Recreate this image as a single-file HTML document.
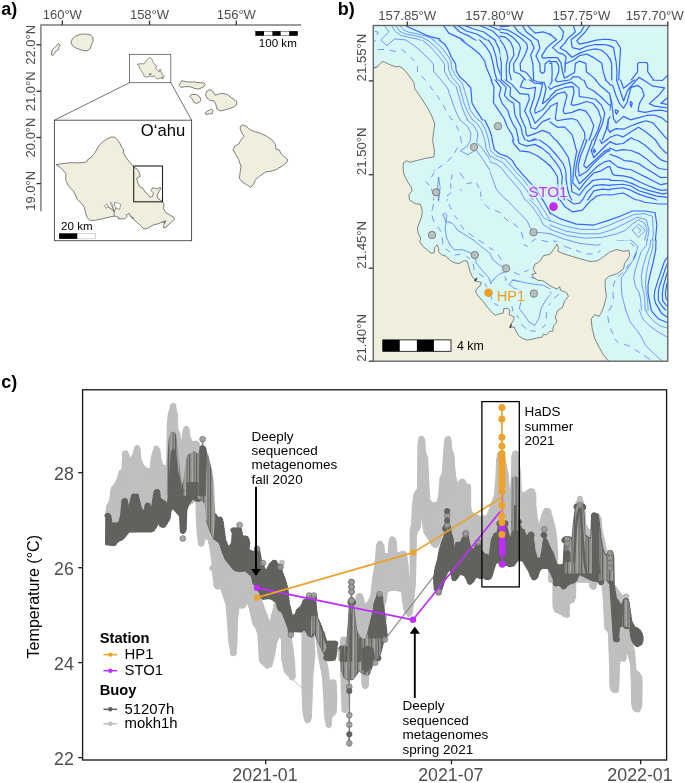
<!DOCTYPE html>
<html lang="en"><head><meta charset="utf-8"><title>Figure 1</title>
<style>
html,body{margin:0;padding:0;background:#fff;}
svg{display:block;font-family:"Liberation Sans",sans-serif;}
</style></head><body>
<svg width="685" height="783" viewBox="0 0 685 783">
<rect width="685" height="783" fill="#fff"/>
<g id="panel-a">
<text x="1.30" y="14.70" font-size="18.00" fill="#000" text-anchor="start" font-weight="bold" >a)</text>
<path d="M40.9,211.3 V25.0 H301.2" fill="none" stroke="#7c7c7c" stroke-width="1.45"/>
<line x1="62.3" x2="62.3" y1="20.6" y2="25.0" stroke="#333" stroke-width="1.3"/>
<text x="62.30" y="18.90" font-size="13.00" fill="#4D4D4D" text-anchor="middle" font-weight="normal" >160°W</text>
<line x1="149.5" x2="149.5" y1="20.6" y2="25.0" stroke="#333" stroke-width="1.3"/>
<text x="149.50" y="18.90" font-size="13.00" fill="#4D4D4D" text-anchor="middle" font-weight="normal" >158°W</text>
<line x1="236.3" x2="236.3" y1="20.6" y2="25.0" stroke="#333" stroke-width="1.3"/>
<text x="236.30" y="18.90" font-size="13.00" fill="#4D4D4D" text-anchor="middle" font-weight="normal" >156°W</text>
<line x1="36.4" x2="40.9" y1="44.8" y2="44.8" stroke="#333" stroke-width="1.3"/>
<text transform="translate(34.90,44.80) rotate(-90)" font-size="13.00" fill="#4D4D4D" text-anchor="middle" font-weight="normal">22.0°N</text>
<line x1="36.4" x2="40.9" y1="91.3" y2="91.3" stroke="#333" stroke-width="1.3"/>
<text transform="translate(34.90,91.30) rotate(-90)" font-size="13.00" fill="#4D4D4D" text-anchor="middle" font-weight="normal">21.0°N</text>
<line x1="36.4" x2="40.9" y1="137.5" y2="137.5" stroke="#333" stroke-width="1.3"/>
<text transform="translate(34.90,137.50) rotate(-90)" font-size="13.00" fill="#4D4D4D" text-anchor="middle" font-weight="normal">20.0°N</text>
<line x1="36.4" x2="40.9" y1="183.6" y2="183.6" stroke="#333" stroke-width="1.3"/>
<text transform="translate(34.90,210.80) rotate(-90)" font-size="13.00" fill="#4D4D4D" text-anchor="start" font-weight="normal">19.0°N</text>
<polygon points="51.39,53.87 52.26,49.93 54.60,47.45 56.79,45.69 58.25,43.36 60.15,45.11 58.69,47.74 58.98,49.20 56.35,50.95 54.60,53.28 53.14,55.33 51.68,55.04" fill="#F0EFDE" stroke="#4a4a4a" stroke-width="0.7" stroke-linejoin="round" />
<polygon points="70.95,42.19 72.41,38.69 75.77,36.06 80.15,34.31 85.26,34.01 90.36,34.60 92.85,37.23 93.14,41.17 91.39,44.82 90.36,48.47 87.01,50.95 82.34,50.36 78.25,48.91 74.74,47.45 72.12,45.11" fill="#F0EFDE" stroke="#4a4a4a" stroke-width="0.7" stroke-linejoin="round" />
<polygon points="179.11,85.46 180.28,83.12 181.68,80.79 186.35,81.72 192.77,82.19 193.94,81.26 195.11,82.42 203.87,82.89 205.27,84.53 203.64,86.86 198.96,88.96 194.53,88.38 189.85,86.63 185.18,86.63 181.09,87.45" fill="#F0EFDE" stroke="#4a4a4a" stroke-width="0.7" stroke-linejoin="round" />
<polygon points="189.62,96.20 191.61,94.57 196.28,94.45 199.43,96.44 201.07,99.71 199.43,102.28 196.28,103.56 193.59,102.04 192.42,99.12" fill="#F0EFDE" stroke="#4a4a4a" stroke-width="0.7" stroke-linejoin="round" />
<polygon points="205.50,94.45 206.67,91.30 209.71,89.66 212.74,91.07 215.08,95.27 221.39,93.28 227.23,94.57 231.90,97.96 236.80,101.46 236.57,104.96 233.07,107.30 226.06,109.64 220.22,110.92 216.95,109.05 215.78,104.38 213.91,100.88 209.71,100.29 206.91,97.96" fill="#F0EFDE" stroke="#4a4a4a" stroke-width="0.7" stroke-linejoin="round" />
<polygon points="205.27,112.79 207.96,110.92 211.46,109.05 212.98,110.80 212.28,113.49 208.54,114.07 205.97,114.42" fill="#F0EFDE" stroke="#4a4a4a" stroke-width="0.7" stroke-linejoin="round" />
<polygon points="240.44,126.42 242.77,124.91 246.28,126.42 250.36,129.93 255.04,131.68 260.88,133.43 266.72,136.35 271.97,139.85 275.47,144.53 276.06,149.20 279.56,150.13 280.73,153.28 284.23,156.79 287.97,159.71 286.57,162.63 281.90,166.13 276.06,169.64 270.22,171.39 265.55,171.97 259.71,176.06 255.62,179.56 253.87,183.65 250.60,187.50 246.86,184.82 242.19,181.90 239.39,178.39 240.09,172.55 241.02,166.72 238.69,159.71 235.77,154.45 233.08,149.78 234.60,146.28 238.69,143.94 241.02,139.85 243.94,136.35 241.26,131.68 240.09,128.18" fill="#F0EFDE" stroke="#4a4a4a" stroke-width="0.7" stroke-linejoin="round" />
<rect x="129.5" y="54.3" width="41.3" height="28.4" fill="none" stroke="#444" stroke-width="0.7"/>
<line x1="129.5" y1="82.7" x2="54.4" y2="120.2" stroke="#333" stroke-width="0.7"/>
<line x1="170.8" y1="82.7" x2="191.6" y2="120.2" stroke="#333" stroke-width="0.7"/>
<rect x="255.60" y="31.2" width="8.40" height="4.5" fill="#000"/>
<rect x="264.00" y="31.2" width="8.40" height="4.5" fill="#fff"/>
<rect x="272.40" y="31.2" width="8.40" height="4.5" fill="#000"/>
<rect x="280.80" y="31.2" width="8.40" height="4.5" fill="#fff"/>
<rect x="289.20" y="31.2" width="8.40" height="4.5" fill="#000"/>
<rect x="255.6" y="31.2" width="42" height="4.5" fill="none" stroke="#000" stroke-width="0.4"/>
<text x="277.80" y="46.60" font-size="11.60" fill="#000" text-anchor="middle" font-weight="normal" >100 km</text>
<rect x="54.4" y="120.2" width="137.2" height="120.5" fill="#fff" stroke="#444" stroke-width="0.9"/>
<polygon points="56.07,164.64 62.85,163.58 71.02,162.65 79.20,162.88 85.04,162.30 87.14,161.25 88.31,158.91 90.29,158.21 93.80,154.12 96.48,150.27 97.88,147.12 101.39,143.03 106.06,139.53 111.31,136.96 114.82,137.19 117.74,140.11 120.07,143.61 121.82,147.70 123.58,149.45 123.34,152.96 125.91,157.04 130.00,162.88 132.52,165.04 134.27,167.37 137.19,169.12 139.53,172.63 140.11,176.13 136.61,178.47 137.77,182.55 139.53,186.64 143.03,188.39 145.36,192.48 148.28,194.82 150.04,197.15 152.37,196.57 153.54,193.07 151.20,190.73 152.37,187.81 155.29,188.39 157.63,188.98 159.96,187.23 161.13,188.39 159.38,190.73 157.04,195.40 158.21,198.91 162.30,201.24 164.05,204.45 163.47,208.54 165.80,212.63 169.89,214.96 173.98,217.30 174.56,219.05 171.06,222.55 166.97,226.06 165.80,227.81 163.47,227.81 164.05,224.31 165.80,220.80 162.88,221.97 158.21,223.72 153.54,224.89 149.45,227.23 145.95,228.98 143.03,228.39 141.28,226.06 137.77,223.14 134.27,220.22 131.35,216.72 129.01,213.80 129.42,213.45 126.15,215.08 127.08,216.72 124.74,218.82 118.32,218.82 118.91,217.30 115.40,216.25 114.00,216.25 110.73,216.72 102.55,218.82 94.38,220.45 89.71,220.22 87.37,217.88 85.62,213.21 84.45,207.37 81.53,203.28 76.86,199.20 76.28,196.86 73.36,191.02 68.69,186.35 65.77,180.51 65.77,173.50 62.85,170.00 60.51,167.55" fill="#F0EFDE" stroke="#4a4a4a" stroke-width="0.7" stroke-linejoin="round" />
<polygon points="137.09,64.21 138.66,63.96 140.55,63.75 142.44,63.80 143.79,63.67 144.27,63.43 144.54,62.89 145.00,62.72 145.81,61.78 146.43,60.89 146.75,60.16 147.56,59.22 148.64,58.41 149.85,57.82 150.66,57.87 151.34,58.54 151.88,59.35 152.28,60.30 152.69,60.70 152.63,61.51 153.23,62.45 154.17,63.80 154.75,64.30 155.16,64.84 155.83,65.24 156.37,66.05 156.51,66.86 155.70,67.40 155.97,68.35 156.37,69.29 157.18,69.70 157.72,70.64 158.39,71.18 158.80,71.72 159.34,71.59 159.61,70.78 159.07,70.24 159.34,69.56 160.01,69.70 160.55,69.83 161.09,69.43 161.36,69.70 160.96,70.24 160.42,71.31 160.69,72.13 161.63,72.66 162.04,73.41 161.90,74.35 162.44,75.29 163.39,75.83 164.33,76.37 164.46,76.78 163.66,77.59 162.71,78.40 162.44,78.80 161.90,78.80 162.04,77.99 162.44,77.18 161.77,77.45 160.69,77.86 159.61,78.13 158.66,78.67 157.86,79.07 157.18,78.94 156.78,78.40 155.97,77.72 155.16,77.05 154.48,76.24 153.94,75.57 154.04,75.48 153.28,75.86 153.50,76.24 152.96,76.72 151.47,76.72 151.61,76.37 150.80,76.13 150.47,76.13 149.72,76.24 147.83,76.72 145.94,77.10 144.86,77.05 144.32,76.51 143.92,75.43 143.65,74.08 142.97,73.14 141.90,72.19 141.76,71.65 141.09,70.30 140.01,69.22 139.33,67.88 139.33,66.26 138.66,65.45 138.12,64.88" fill="#F0EFDE" stroke="#4a4a4a" stroke-width="0.6" stroke-linejoin="round" />
<path d="M148.9,74.6 L149.6,73.4 L150.3,74.3 L151.4,73.2 L151.0,74.6 Z" fill="#666" stroke="#555" stroke-width="0.4"/>
<polygon points="104.50,205.70 106.70,204.20 108.50,207.20 105.90,208.20" fill="#fff" stroke="#4a4a4a" stroke-width="0.5" stroke-linejoin="round" />
<polygon points="110.70,202.40 112.50,204.60 112.90,208.20 111.40,205.70" fill="#fff" stroke="#4a4a4a" stroke-width="0.5" stroke-linejoin="round" />
<polygon points="114.30,202.80 116.90,202.40 120.90,204.60 119.50,209.30 116.20,208.20 114.70,206.10" fill="#fff" stroke="#4a4a4a" stroke-width="0.5" stroke-linejoin="round" />
<polyline points="114.10,215.40 114.10,211.20 108.50,207.20" fill="none" stroke="#4a4a4a" stroke-width="0.7" stroke-linejoin="round" stroke-linecap="round" />
<polyline points="114.10,211.20 112.90,208.20" fill="none" stroke="#4a4a4a" stroke-width="0.7" stroke-linejoin="round" stroke-linecap="round" />
<polyline points="114.10,211.20 116.20,208.20" fill="none" stroke="#4a4a4a" stroke-width="0.7" stroke-linejoin="round" stroke-linecap="round" />
<polyline points="130.18,215.78 131.93,217.30 133.69,218.12" fill="none" stroke="#555" stroke-width="0.8" stroke-linejoin="round" stroke-linecap="round" />
<polyline points="162.30,221.97 164.05,223.14 165.45,221.39" fill="none" stroke="#555" stroke-width="0.8" stroke-linejoin="round" stroke-linecap="round" />
<rect x="133.7" y="166.0" width="28.8" height="35.8" fill="none" stroke="#222" stroke-width="1.1"/>
<text x="163.00" y="136.00" font-size="16.60" fill="#000" text-anchor="middle" font-weight="normal" >Oʻahu</text>
<rect x="59.1" y="233.3" width="18.3" height="5.6" fill="#000"/>
<rect x="77.4" y="233.3" width="18.1" height="5.6" fill="#fff" stroke="#999" stroke-width="0.4"/>
<text x="76.90" y="229.80" font-size="11.60" fill="#000" text-anchor="middle" font-weight="normal" >20 km</text>
</g>
<g id="panel-b">
<text x="337.70" y="14.70" font-size="18.00" fill="#000" text-anchor="start" font-weight="bold" >b)</text>
<rect x="373.0" y="25.5" width="294.8" height="335.7" fill="#D7F7F6"/>
<defs>
<clipPath id="bframe"><rect x="373.0" y="25.5" width="294.8" height="335.7"/></clipPath>
<clipPath id="bc0"><rect x="369.5" y="89.5" width="51.0" height="46.0"/><rect x="419.5" y="119.5" width="11.0" height="16.0"/></clipPath>
<clipPath id="bc1"><rect x="439.5" y="19.5" width="61.0" height="21.0"/></clipPath>
<clipPath id="bc2"><rect x="369.5" y="19.5" width="51.0" height="71.0"/><rect x="419.5" y="19.5" width="21.0" height="21.0"/></clipPath>
<clipPath id="bc3"><rect x="419.5" y="39.5" width="71.0" height="81.0"/><rect x="489.5" y="39.5" width="11.0" height="41.0"/></clipPath>
<clipPath id="bc4"><rect x="499.5" y="19.5" width="51.0" height="61.0"/></clipPath>
<clipPath id="bc5"><rect x="549.5" y="19.5" width="61.0" height="61.0"/></clipPath>
<clipPath id="bc6"><rect x="609.5" y="19.5" width="61.0" height="61.0"/></clipPath>
<clipPath id="bc7"><rect x="489.5" y="79.5" width="61.0" height="61.0"/></clipPath>
<clipPath id="bc8"><rect x="549.5" y="79.5" width="61.0" height="61.0"/></clipPath>
<clipPath id="bc9"><rect x="609.5" y="79.5" width="61.0" height="61.0"/></clipPath>
<clipPath id="bc10"><rect x="489.5" y="139.5" width="61.0" height="61.0"/></clipPath>
<clipPath id="bc11"><rect x="549.5" y="139.5" width="61.0" height="61.0"/></clipPath>
<clipPath id="bc12"><rect x="609.5" y="139.5" width="61.0" height="61.0"/></clipPath>
<clipPath id="bc13"><rect x="429.5" y="119.5" width="61.0" height="51.0"/></clipPath>
<clipPath id="bc14"><rect x="369.5" y="134.5" width="61.0" height="36.0"/><rect x="369.5" y="169.5" width="121.0" height="31.0"/></clipPath>
<clipPath id="bc15"><rect x="369.5" y="199.5" width="81.0" height="101.0"/></clipPath>
<clipPath id="bc16"><rect x="449.5" y="199.5" width="101.0" height="81.0"/></clipPath>
<clipPath id="bc17"><rect x="549.5" y="199.5" width="51.0" height="91.0"/><rect x="599.5" y="199.5" width="71.0" height="41.0"/></clipPath>
<clipPath id="bc18"><rect x="449.5" y="279.5" width="101.0" height="83.0"/></clipPath>
<clipPath id="bc19"><rect x="549.5" y="289.5" width="51.0" height="73.0"/><rect x="599.5" y="309.5" width="71.0" height="53.0"/></clipPath>
<clipPath id="bc20"><rect x="599.5" y="239.5" width="71.0" height="71.0"/></clipPath>
</defs>
<g clip-path="url(#bframe)">
<g clip-path="url(#bc0)">
<polyline points="378.76,48.91 385.33,48.47 392.99,50.66 402.85,49.56 411.61,56.13 417.08,64.89 418.18,73.65 424.74,80.22 433.50,90.07 442.26,103.21 451.02,116.35 457.59,127.30 459.78,134.96" fill="none" stroke="#3366FF" stroke-width="0.65" stroke-linejoin="round" stroke-linecap="round" stroke-dasharray="4.6 4.6"/>
<polyline points="375.47,30.95 378.32,33.58 375.47,36.42" fill="none" stroke="#3366FF" stroke-width="0.65" stroke-linejoin="round" stroke-linecap="round" />
<polyline points="373.07,41.90 375.47,39.71" fill="none" stroke="#3366FF" stroke-width="0.65" stroke-linejoin="round" stroke-linecap="round" />
<polyline points="385.77,25.47 389.27,32.04 381.39,39.71 387.08,45.18 395.18,38.61 406.13,39.71 420.36,49.56 433.50,60.51 433.94,71.46 442.26,82.41 449.93,92.26 454.31,107.59" fill="none" stroke="#3366FF" stroke-width="0.65" stroke-linejoin="round" stroke-linecap="round" />
<polyline points="391.46,25.47 397.37,34.23 408.32,36.42 421.46,41.90 433.50,51.75 443.36,62.70 444.45,72.55 451.02,83.50 456.50,94.45 459.78,107.59" fill="none" stroke="#3366FF" stroke-width="0.65" stroke-linejoin="round" stroke-linecap="round" />
<polyline points="395.18,25.47 400.66,32.04 411.61,34.23 424.74,39.71 436.79,49.56 446.64,60.51 447.74,70.36 454.31,81.31 460.22,94.45 463.07,106.50" fill="none" stroke="#3366FF" stroke-width="0.65" stroke-linejoin="round" stroke-linecap="round" />
<polyline points="398.47,25.47 403.94,30.51 414.89,32.70 427.37,37.96 439.64,47.37 449.93,58.32 451.02,69.27 457.59,80.22 463.72,92.26 466.35,105.40" fill="none" stroke="#3366FF" stroke-width="0.65" stroke-linejoin="round" stroke-linecap="round" />
<polyline points="406.13,26.13 413.80,29.85 424.74,33.14 440.07,38.61 447.74,46.28 454.31,58.32 456.50,69.27 465.26,80.22 471.17,88.98 471.82,101.02" fill="none" stroke="#3366FF" stroke-width="1.2" stroke-linejoin="round" stroke-linecap="round" />
</g>
<g clip-path="url(#bc1)">
<polyline points="443.36,25.47 448.83,33.14 460.88,38.61 472.92,47.37 483.87,58.32 489.34,70.36 492.63,83.50 492.63,101.02" fill="none" stroke="#3366FF" stroke-width="1.2" stroke-linejoin="round" stroke-linecap="round" />
<polyline points="453.21,25.47 459.78,32.04 469.64,36.42 481.68,44.09 491.53,55.04 495.91,68.18 499.20,83.50 501.39,94.45" fill="none" stroke="#3366FF" stroke-width="1.2" stroke-linejoin="round" stroke-linecap="round" />
<polyline points="457.59,25.47 466.35,30.95 477.30,34.23 489.34,41.90 498.10,53.94 501.39,67.08 504.01,81.31 506.86,93.36" fill="none" stroke="#3366FF" stroke-width="1.2" stroke-linejoin="round" stroke-linecap="round" />
<polyline points="464.16,25.47 472.92,28.76 483.87,32.04 495.91,40.80 503.58,52.85 506.86,65.99 509.05,79.12 512.34,90.07" fill="none" stroke="#3366FF" stroke-width="1.2" stroke-linejoin="round" stroke-linecap="round" />
<polyline points="479.49,25.47 492.63,30.95 503.58,41.90 509.05,52.85 511.24,63.80 513.43,76.93" fill="none" stroke="#3366FF" stroke-width="1.2" stroke-linejoin="round" stroke-linecap="round" />
<polyline points="488.25,25.47 501.39,30.95 510.15,39.71" fill="none" stroke="#3366FF" stroke-width="1.2" stroke-linejoin="round" stroke-linecap="round" />
</g>
<g clip-path="url(#bc2)">
<polyline points="384.31,25.62 388.91,31.75 380.73,39.93 386.86,45.55 394.53,38.91 405.77,39.93 413.94,45.55 423.14,52.70 431.31,60.88 433.87,64.96 433.36,72.12 437.45,78.25 440.51,82.54" fill="none" stroke="#3366FF" stroke-width="0.65" stroke-linejoin="round" stroke-linecap="round" />
<polyline points="391.46,25.62 395.55,31.75 400.66,35.33 408.83,37.37 419.05,39.42 427.23,45.04 435.40,52.70 440.51,58.32" fill="none" stroke="#3366FF" stroke-width="0.65" stroke-linejoin="round" stroke-linecap="round" />
<polyline points="396.06,25.62 399.64,31.24 404.74,33.80 412.92,35.33 422.12,37.37 430.29,41.97 436.42,47.59 440.51,51.17" fill="none" stroke="#3366FF" stroke-width="0.65" stroke-linejoin="round" stroke-linecap="round" />
<polyline points="400.15,25.62 403.21,29.71 408.83,32.26 417.01,33.80 425.18,35.84 432.34,38.91 438.47,43.50 440.51,45.04" fill="none" stroke="#3366FF" stroke-width="0.65" stroke-linejoin="round" stroke-linecap="round" />
<polyline points="405.77,25.62 410.88,28.18 418.03,31.24 425.18,34.82 431.31,36.86 440.51,39.11" fill="none" stroke="#3366FF" stroke-width="1.2" stroke-linejoin="round" stroke-linecap="round" />
<polyline points="378.18,49.64 383.80,49.43" fill="none" stroke="#3366FF" stroke-width="0.65" stroke-linejoin="round" stroke-linecap="round" />
<polyline points="389.93,50.35 395.55,51.47" fill="none" stroke="#3366FF" stroke-width="0.65" stroke-linejoin="round" stroke-linecap="round" />
<polyline points="401.68,49.43 405.77,52.70" fill="none" stroke="#3366FF" stroke-width="0.65" stroke-linejoin="round" stroke-linecap="round" />
<polyline points="410.88,57.30 414.45,60.88" fill="none" stroke="#3366FF" stroke-width="0.65" stroke-linejoin="round" stroke-linecap="round" />
<polyline points="417.52,66.50 417.52,71.61" fill="none" stroke="#3366FF" stroke-width="0.65" stroke-linejoin="round" stroke-linecap="round" />
<polyline points="422.12,76.20 425.69,80.29" fill="none" stroke="#3366FF" stroke-width="0.65" stroke-linejoin="round" stroke-linecap="round" />
<polyline points="429.78,85.91 432.34,90.00" fill="none" stroke="#3366FF" stroke-width="0.65" stroke-linejoin="round" stroke-linecap="round" />
<polyline points="375.11,31.24 378.18,32.26 377.15,34.82" fill="none" stroke="#3366FF" stroke-width="0.65" stroke-linejoin="round" stroke-linecap="round" />
<polyline points="373.07,42.48 375.62,40.44" fill="none" stroke="#3366FF" stroke-width="0.65" stroke-linejoin="round" stroke-linecap="round" />
</g>
<g clip-path="url(#bc3)">
<polyline points="419.42,50.04 427.01,56.93 433.43,63.94 433.78,71.53 439.85,78.54 447.45,87.88 450.36,96.06 453.87,106.57 457.37,114.74 460.53,120.58" fill="none" stroke="#3366FF" stroke-width="0.65" stroke-linejoin="round" stroke-linecap="round" />
<polyline points="421.75,39.42 431.68,48.18 438.69,56.35 444.53,63.94 444.53,71.53 449.20,79.71 456.20,86.72 458.54,94.89 461.46,105.40 464.96,114.74 468.12,120.58" fill="none" stroke="#3366FF" stroke-width="0.65" stroke-linejoin="round" stroke-linecap="round" />
<polyline points="427.01,39.42 436.35,47.59 442.77,55.18 448.03,62.77 448.61,69.78 452.12,77.37 459.12,85.55 461.46,93.72 464.38,104.23 467.88,112.41 472.91,120.58" fill="none" stroke="#3366FF" stroke-width="0.65" stroke-linejoin="round" stroke-linecap="round" />
<polyline points="432.26,39.42 440.44,46.42 446.28,53.43 450.95,61.02 451.53,68.03 455.04,75.04 462.04,83.21 464.96,91.39 467.88,101.90 470.22,110.07 475.47,117.08 478.98,120.58" fill="none" stroke="#3366FF" stroke-width="0.65" stroke-linejoin="round" stroke-linecap="round" />
<polyline points="438.69,39.42 445.11,44.67 448.61,50.51 451.53,57.52 455.62,63.94 456.20,70.95 459.71,76.79 466.13,82.63 470.80,87.88 471.39,94.89 471.97,103.07 476.06,110.07 480.73,117.08 482.83,120.58" fill="none" stroke="#3366FF" stroke-width="1.2" stroke-linejoin="round" stroke-linecap="round" />
<polyline points="460.88,39.42 466.72,44.09 472.55,48.18 479.56,54.01 484.82,61.02 485.99,66.86 490.07,76.20 494.74,86.72 492.99,94.89 493.58,103.65 497.08,110.07 500.58,114.16" fill="none" stroke="#3366FF" stroke-width="1.2" stroke-linejoin="round" stroke-linecap="round" />
<polyline points="478.98,39.42 485.40,45.84 490.66,54.01 492.99,63.36 494.74,72.70 497.08,80.29 500.58,84.38" fill="none" stroke="#3366FF" stroke-width="1.2" stroke-linejoin="round" stroke-linecap="round" />
<polyline points="487.97,39.42 492.99,47.01 495.91,56.35 497.66,66.86 500.58,75.04" fill="none" stroke="#3366FF" stroke-width="1.2" stroke-linejoin="round" stroke-linecap="round" />
<polyline points="494.51,39.42 498.83,48.18 500.58,55.18" fill="none" stroke="#3366FF" stroke-width="1.2" stroke-linejoin="round" stroke-linecap="round" />
<polyline points="421.75,76.20 425.26,80.29" fill="none" stroke="#3366FF" stroke-width="0.65" stroke-linejoin="round" stroke-linecap="round" />
<polyline points="429.93,86.13 432.85,90.22" fill="none" stroke="#3366FF" stroke-width="0.65" stroke-linejoin="round" stroke-linecap="round" />
<polyline points="436.93,95.47 439.85,99.56" fill="none" stroke="#3366FF" stroke-width="0.65" stroke-linejoin="round" stroke-linecap="round" />
<polyline points="443.36,105.40 445.69,110.07" fill="none" stroke="#3366FF" stroke-width="0.65" stroke-linejoin="round" stroke-linecap="round" />
<polyline points="449.20,115.91 452.12,120.00" fill="none" stroke="#3366FF" stroke-width="0.65" stroke-linejoin="round" stroke-linecap="round" />
</g>
<g clip-path="url(#bc4)">
<polyline points="500.00,26.57 505.26,26.31 509.64,25.78" fill="none" stroke="#3366FF" stroke-width="1.2" stroke-linejoin="round" stroke-linecap="round" />
<polyline points="500.00,28.76 507.88,30.07 514.89,34.01 521.90,38.83 526.72,43.65 527.59,48.03 524.96,55.04 520.15,63.80 520.58,70.36 526.28,72.55 530.66,77.81 531.97,80.00" fill="none" stroke="#3366FF" stroke-width="1.2" stroke-linejoin="round" stroke-linecap="round" />
<polyline points="500.00,32.26 507.01,33.58 513.14,37.52 518.83,43.65 520.58,48.03 517.96,56.79 513.58,63.80 514.01,71.68 520.15,74.31 525.40,80.00" fill="none" stroke="#3366FF" stroke-width="1.2" stroke-linejoin="round" stroke-linecap="round" />
<polyline points="500.00,36.20 505.26,37.08 510.51,41.90 513.14,48.03 514.01,55.04 509.64,62.92 509.20,71.68 511.39,80.00" fill="none" stroke="#3366FF" stroke-width="1.2" stroke-linejoin="round" stroke-linecap="round" />
<polyline points="500.00,40.15 503.50,44.53 506.57,51.53 507.88,57.66 506.13,65.55 506.57,80.00" fill="none" stroke="#3366FF" stroke-width="1.2" stroke-linejoin="round" stroke-linecap="round" />
<polyline points="500.00,56.79 501.31,62.04 501.31,80.00" fill="none" stroke="#3366FF" stroke-width="1.2" stroke-linejoin="round" stroke-linecap="round" />
<polyline points="513.58,25.69 518.39,31.82 525.40,36.64 531.09,41.02 534.16,48.03 530.66,55.04 532.85,63.80 533.28,72.55 533.72,80.00" fill="none" stroke="#3366FF" stroke-width="1.2" stroke-linejoin="round" stroke-linecap="round" />
<polyline points="522.34,25.69 526.28,31.82 535.04,38.83 538.10,40.58 539.85,48.03 535.91,55.91 539.85,63.80 540.29,71.68 542.48,73.43 544.67,71.68 545.11,63.80 549.05,60.73 556.06,60.29 560.00,62.04" fill="none" stroke="#3366FF" stroke-width="1.2" stroke-linejoin="round" stroke-linecap="round" />
<polyline points="527.59,25.69 535.04,33.14 542.92,31.82 549.05,34.01 556.06,40.15 547.30,47.15 541.61,55.91 542.92,58.10 549.05,57.66 556.06,57.66" fill="none" stroke="#3366FF" stroke-width="1.2" stroke-linejoin="round" stroke-linecap="round" />
</g>
<g clip-path="url(#bc5)">
<polyline points="548.25,33.14 550.00,34.01 556.57,39.71 550.00,44.53 547.37,46.28" fill="none" stroke="#3366FF" stroke-width="1.2" stroke-linejoin="round" stroke-linecap="round" />
<polyline points="558.32,25.43 563.58,31.82 562.26,38.83 552.63,47.59 558.32,52.85 563.14,54.16 566.20,57.23 565.07,63.80 564.89,72.12 565.42,63.80" fill="none" stroke="#3366FF" stroke-width="1.2" stroke-linejoin="round" stroke-linecap="round" />
<polyline points="573.21,25.43 575.40,31.82 567.52,38.83 564.45,43.65 560.07,48.03 566.20,51.53 571.90,57.23 580.22,52.85 587.66,50.22 595.55,48.91 601.68,50.22 606.93,54.60 610.44,59.85" fill="none" stroke="#3366FF" stroke-width="1.2" stroke-linejoin="round" stroke-linecap="round" />
<polyline points="584.60,25.43 580.66,32.26 571.02,39.71 572.34,47.59 579.78,49.34 586.79,46.28 595.55,44.53 604.31,44.53 610.44,45.84" fill="none" stroke="#3366FF" stroke-width="1.2" stroke-linejoin="round" stroke-linecap="round" />
<polyline points="589.85,25.43 585.04,32.26 576.72,40.58 579.34,44.09 587.66,42.34 596.42,40.15 604.31,39.27 610.44,39.71" fill="none" stroke="#3366FF" stroke-width="1.2" stroke-linejoin="round" stroke-linecap="round" />
<polyline points="549.12,57.66 557.45,57.66 560.95,62.92 562.70,72.55 564.45,78.25 574.53,72.55 575.40,63.36 579.34,61.17 585.91,63.36 586.35,71.68 593.36,77.37 596.42,80.44" fill="none" stroke="#3366FF" stroke-width="1.2" stroke-linejoin="round" stroke-linecap="round" />
<polyline points="565.42,63.62 573.21,60.29 579.78,55.47 586.79,54.16 593.80,57.66 601.68,62.92 603.43,72.55 606.06,80.44" fill="none" stroke="#3366FF" stroke-width="1.2" stroke-linejoin="round" stroke-linecap="round" />
<polyline points="549.12,61.61 556.57,61.61 558.76,66.42 558.76,71.68 555.26,80.44" fill="none" stroke="#3366FF" stroke-width="1.2" stroke-linejoin="round" stroke-linecap="round" />
<polyline points="549.12,63.36 551.75,63.36 552.19,72.55 551.75,80.44" fill="none" stroke="#3366FF" stroke-width="1.2" stroke-linejoin="round" stroke-linecap="round" />
<polyline points="569.71,80.44 572.77,76.93 578.91,76.93 582.41,80.44" fill="none" stroke="#3366FF" stroke-width="1.2" stroke-linejoin="round" stroke-linecap="round" />
</g>
<g clip-path="url(#bc6)">
<polyline points="609.12,39.45 616.13,41.02 620.51,48.03 619.64,63.80 618.76,80.44" fill="none" stroke="#3366FF" stroke-width="1.2" stroke-linejoin="round" stroke-linecap="round" />
<polyline points="609.12,45.40 613.50,47.59 616.13,62.04 617.01,72.55 616.57,80.44" fill="none" stroke="#3366FF" stroke-width="1.2" stroke-linejoin="round" stroke-linecap="round" />
<polyline points="610.00,58.54 611.75,63.80 611.75,80.44" fill="none" stroke="#3366FF" stroke-width="1.2" stroke-linejoin="round" stroke-linecap="round" />
<polyline points="631.02,80.44 637.59,71.68 637.59,63.80 638.91,62.48 646.35,62.48 647.66,63.80 647.66,71.68 653.80,80.44" fill="none" stroke="#3366FF" stroke-width="1.2" stroke-linejoin="round" stroke-linecap="round" />
<polyline points="636.28,80.44 638.91,77.37 644.16,80.44" fill="none" stroke="#3366FF" stroke-width="1.2" stroke-linejoin="round" stroke-linecap="round" />
<polyline points="662.55,80.44 668.25,74.74" fill="none" stroke="#3366FF" stroke-width="1.2" stroke-linejoin="round" stroke-linecap="round" />
</g>
<g clip-path="url(#bc7)">
<polyline points="490.70,79.56 493.94,87.01 493.50,102.77 498.76,110.66 504.01,118.54 507.52,127.30 511.90,134.31 513.82,140.44" fill="none" stroke="#3366FF" stroke-width="1.2" stroke-linejoin="round" stroke-linecap="round" />
<polyline points="495.08,79.56 500.95,87.88 499.20,95.77 502.26,103.65 507.52,109.78 509.71,116.79 512.77,123.80 516.28,129.05 518.64,140.44" fill="none" stroke="#3366FF" stroke-width="1.2" stroke-linejoin="round" stroke-linecap="round" />
<polyline points="498.58,79.56 506.20,87.45 504.45,95.33 508.39,100.15 513.65,103.21 514.96,115.04 518.03,121.17 521.09,127.30 522.41,134.31 525.21,140.44" fill="none" stroke="#3366FF" stroke-width="1.2" stroke-linejoin="round" stroke-linecap="round" />
<polyline points="501.21,79.56 510.58,87.71 509.97,95.77 519.78,103.21 520.22,115.91 523.28,122.92 525.47,127.74 526.35,134.74 527.66,136.06 535.55,133.43 542.55,130.36 550.44,133.61" fill="none" stroke="#3366FF" stroke-width="1.2" stroke-linejoin="round" stroke-linecap="round" />
<polyline points="505.07,79.56 511.90,84.38 519.78,93.58 528.54,94.45 529.42,99.27 524.60,111.09 528.54,118.54 531.17,127.74 535.55,129.05 542.55,121.61 550.44,118.36" fill="none" stroke="#3366FF" stroke-width="1.2" stroke-linejoin="round" stroke-linecap="round" />
<polyline points="523.46,79.56 520.22,87.01 527.66,88.76 535.55,87.45 534.23,97.52 529.85,110.66 535.11,123.36 542.55,115.91 550.44,106.72" fill="none" stroke="#3366FF" stroke-width="1.2" stroke-linejoin="round" stroke-linecap="round" />
<polyline points="528.98,79.56 534.67,83.07 542.55,83.94 539.93,95.77 534.67,110.22 535.11,113.28 542.55,109.78 546.06,105.40 550.44,99.71" fill="none" stroke="#3366FF" stroke-width="1.2" stroke-linejoin="round" stroke-linecap="round" />
<polyline points="531.61,79.56 537.30,81.75 544.31,82.63 546.06,88.76 542.55,103.65 546.06,101.02 550.44,97.17" fill="none" stroke="#3366FF" stroke-width="1.2" stroke-linejoin="round" stroke-linecap="round" />
<polyline points="548.51,86.83 550.44,89.11" fill="none" stroke="#3366FF" stroke-width="1.2" stroke-linejoin="round" stroke-linecap="round" />
<polyline points="489.56,130.36 491.75,136.06 492.28,140.44" fill="none" stroke="#3366FF" stroke-width="1.2" stroke-linejoin="round" stroke-linecap="round" />
<polyline points="531.17,140.44 534.67,138.69 537.74,140.44" fill="none" stroke="#3366FF" stroke-width="1.2" stroke-linejoin="round" stroke-linecap="round" />
</g>
<g clip-path="url(#bc8)">
<polyline points="549.56,89.81 555.26,86.57 564.01,83.94 571.90,82.19 578.91,87.88 579.34,96.64 586.79,97.52 595.55,99.27 601.68,105.40 604.74,113.28 602.55,123.80 598.61,132.55 595.37,140.44" fill="none" stroke="#3366FF" stroke-width="1.2" stroke-linejoin="round" stroke-linecap="round" />
<polyline points="549.56,96.99 556.13,90.51 564.89,87.45 573.21,86.57 574.09,92.26 571.02,104.53 573.21,105.40 578.91,104.09 586.79,101.46 592.92,103.21 598.18,109.78 601.24,119.42 597.74,130.80 592.74,140.44" fill="none" stroke="#3366FF" stroke-width="1.2" stroke-linejoin="round" stroke-linecap="round" />
<polyline points="549.56,100.50 557.01,94.01 564.45,91.82 567.08,95.33 563.14,110.66 564.45,113.72 571.90,112.41 579.34,109.34 585.91,111.09 589.85,116.79 593.80,125.55 591.17,134.31 588.80,140.44" fill="none" stroke="#3366FF" stroke-width="1.2" stroke-linejoin="round" stroke-linecap="round" />
<polyline points="549.56,106.45 557.45,102.77 555.26,118.54 557.01,120.73 564.89,119.42 571.90,118.54 577.15,120.29 580.66,125.55 584.60,132.55 585.04,140.44" fill="none" stroke="#3366FF" stroke-width="1.2" stroke-linejoin="round" stroke-linecap="round" />
<polyline points="549.56,121.78 557.45,127.30 564.45,126.86 571.90,134.31 573.82,140.44" fill="none" stroke="#3366FF" stroke-width="1.2" stroke-linejoin="round" stroke-linecap="round" />
<polyline points="549.56,133.87 552.63,136.93 555.61,140.44" fill="none" stroke="#3366FF" stroke-width="1.2" stroke-linejoin="round" stroke-linecap="round" />
<polyline points="583.55,79.56 587.23,87.45 593.80,90.95 601.68,97.52 607.81,103.65 610.44,105.75" fill="none" stroke="#3366FF" stroke-width="1.2" stroke-linejoin="round" stroke-linecap="round" />
<polyline points="595.28,79.56 599.93,85.26 606.06,90.51 610.44,94.36" fill="none" stroke="#3366FF" stroke-width="1.2" stroke-linejoin="round" stroke-linecap="round" />
<polyline points="605.18,79.56 610.44,84.73" fill="none" stroke="#3366FF" stroke-width="1.2" stroke-linejoin="round" stroke-linecap="round" />
<polyline points="610.44,116.35 608.25,119.42 607.81,129.05 610.44,132.91" fill="none" stroke="#3366FF" stroke-width="1.2" stroke-linejoin="round" stroke-linecap="round" />
<polyline points="606.06,140.44 610.44,137.11" fill="none" stroke="#3366FF" stroke-width="1.2" stroke-linejoin="round" stroke-linecap="round" />
<polyline points="555.08,79.56 557.01,81.75 567.52,80.44 568.57,79.56" fill="none" stroke="#3366FF" stroke-width="1.2" stroke-linejoin="round" stroke-linecap="round" />
<polyline points="549.56,85.26 551.75,81.75 552.28,79.56" fill="none" stroke="#3366FF" stroke-width="1.2" stroke-linejoin="round" stroke-linecap="round" />
<polyline points="602.12,140.44 606.06,129.93 608.51,119.42" fill="none" stroke="#3366FF" stroke-width="1.2" stroke-linejoin="round" stroke-linecap="round" />
</g>
<g clip-path="url(#bc9)">
<polyline points="620.34,79.56 623.58,88.32 631.90,81.75 634.96,79.56" fill="none" stroke="#3366FF" stroke-width="1.2" stroke-linejoin="round" stroke-linecap="round" />
<polyline points="616.39,79.56 620.07,90.51 623.58,101.02 627.52,90.51 636.72,79.56" fill="none" stroke="#3366FF" stroke-width="1.2" stroke-linejoin="round" stroke-linecap="round" />
<polyline points="609.56,84.82 612.63,85.26 616.13,95.77 619.64,103.65 623.58,108.03 627.08,102.34 631.02,87.45 638.03,85.43 641.97,88.76 644.16,95.33 639.34,103.65 638.03,111.09 645.04,112.41 653.80,110.66 661.68,110.22 668.25,112.06" fill="none" stroke="#3366FF" stroke-width="1.2" stroke-linejoin="round" stroke-linecap="round" />
<polyline points="609.56,94.45 611.75,102.77 613.50,118.54 616.13,122.92 623.58,116.35 630.58,119.85 638.91,117.66 646.79,115.47 653.80,115.04 661.68,117.66 668.25,123.27" fill="none" stroke="#3366FF" stroke-width="1.2" stroke-linejoin="round" stroke-linecap="round" />
<polyline points="630.58,101.46 632.34,103.21 631.02,107.15 630.15,103.65 630.58,101.46" fill="none" stroke="#3366FF" stroke-width="1.2" stroke-linejoin="round" stroke-linecap="round" />
<polyline points="615.26,109.78 618.32,111.09 616.57,114.16 615.26,111.97 615.26,109.78" fill="none" stroke="#3366FF" stroke-width="1.2" stroke-linejoin="round" stroke-linecap="round" />
<polyline points="609.56,131.85 616.13,128.61 624.01,129.05 631.90,125.55 638.91,122.92 645.91,120.73 652.92,122.92 659.05,129.93 664.31,136.06 668.25,140.44" fill="none" stroke="#3366FF" stroke-width="1.2" stroke-linejoin="round" stroke-linecap="round" />
<polyline points="609.56,137.55 616.57,134.74 623.14,136.93 631.02,131.68 638.47,127.30 645.04,131.24 652.04,136.93 655.90,140.44" fill="none" stroke="#3366FF" stroke-width="1.2" stroke-linejoin="round" stroke-linecap="round" />
<polyline points="627.08,140.44 631.02,137.81 635.84,140.44" fill="none" stroke="#3366FF" stroke-width="1.2" stroke-linejoin="round" stroke-linecap="round" />
<polyline points="642.85,79.56 652.92,86.13 664.74,87.88 658.18,95.77 649.42,103.65 653.80,105.84 661.68,107.15 668.25,108.03" fill="none" stroke="#3366FF" stroke-width="1.2" stroke-linejoin="round" stroke-linecap="round" />
<polyline points="668.25,97.34 660.80,103.21 668.25,104.70" fill="none" stroke="#3366FF" stroke-width="1.2" stroke-linejoin="round" stroke-linecap="round" />
<polyline points="652.92,80.00 662.55,80.44" fill="none" stroke="#3366FF" stroke-width="1.2" stroke-linejoin="round" stroke-linecap="round" />
<polyline points="609.56,110.66 611.31,102.77 609.56,94.89" fill="none" stroke="#3366FF" stroke-width="1.2" stroke-linejoin="round" stroke-linecap="round" />
</g>
<g clip-path="url(#bc10)">
<polyline points="492.10,139.56 494.38,149.64 499.64,154.01 507.52,156.64 511.90,160.15 516.28,167.15 523.28,175.04 530.29,182.92 537.30,190.80 542.91,200.44" fill="none" stroke="#3366FF" stroke-width="1.2" stroke-linejoin="round" stroke-linecap="round" />
<polyline points="489.56,149.64 496.13,155.77 504.89,158.83 510.15,164.53 516.28,172.41 522.41,178.54 528.54,186.42 533.80,193.43 537.56,200.44" fill="none" stroke="#3366FF" stroke-width="0.65" stroke-linejoin="round" stroke-linecap="round" />
<polyline points="489.56,155.50 497.01,159.71 503.14,162.77 508.39,168.91 514.53,175.91 520.66,182.92 525.91,189.05 530.29,196.06 533.18,200.44" fill="none" stroke="#3366FF" stroke-width="0.65" stroke-linejoin="round" stroke-linecap="round" />
<polyline points="489.56,161.72 497.01,164.53 502.26,168.91 507.52,175.91 513.65,182.92 519.78,189.93 522.41,195.18 525.30,200.44" fill="none" stroke="#3366FF" stroke-width="0.65" stroke-linejoin="round" stroke-linecap="round" />
<polyline points="489.56,171.09 492.63,178.54 496.13,189.05 501.39,195.18 507.08,200.44" fill="none" stroke="#3366FF" stroke-width="0.65" stroke-linejoin="round" stroke-linecap="round" />
<polyline points="512.25,139.56 513.65,143.50 519.78,150.95 528.54,151.82 537.30,155.77 544.31,161.02 550.44,166.28" fill="none" stroke="#3366FF" stroke-width="1.2" stroke-linejoin="round" stroke-linecap="round" />
<polyline points="517.85,139.56 519.34,143.50 526.79,146.13 534.67,144.38 541.68,147.88 546.93,152.26 550.44,154.72" fill="none" stroke="#3366FF" stroke-width="1.2" stroke-linejoin="round" stroke-linecap="round" />
<polyline points="526.35,139.56 528.54,141.31 535.99,139.56" fill="none" stroke="#3366FF" stroke-width="1.2" stroke-linejoin="round" stroke-linecap="round" />
<polyline points="538.61,139.56 546.06,144.38 550.44,148.23" fill="none" stroke="#3366FF" stroke-width="1.2" stroke-linejoin="round" stroke-linecap="round" />
</g>
<g clip-path="url(#bc11)">
<polyline points="549.56,147.45 557.01,155.77 563.14,163.65 565.77,170.66 566.20,180.29 567.52,189.05 569.71,196.06 572.07,200.44" fill="none" stroke="#3366FF" stroke-width="1.2" stroke-linejoin="round" stroke-linecap="round" />
<polyline points="549.56,154.89 556.13,162.77 560.51,169.78 562.26,176.79 561.82,183.80 563.14,194.31 564.54,200.44" fill="none" stroke="#3366FF" stroke-width="1.2" stroke-linejoin="round" stroke-linecap="round" />
<polyline points="549.56,164.88 554.38,171.53 557.45,176.79 557.88,183.80 558.32,200.44" fill="none" stroke="#3366FF" stroke-width="1.2" stroke-linejoin="round" stroke-linecap="round" />
<polyline points="555.78,139.56 562.26,147.88 568.39,157.52 570.58,168.03 571.02,182.04 571.90,191.68 579.34,195.18 585.04,187.74 592.92,180.29 602.55,178.98 610.44,179.42" fill="none" stroke="#3366FF" stroke-width="1.2" stroke-linejoin="round" stroke-linecap="round" />
<polyline points="573.47,139.56 576.72,151.39 574.53,162.77 573.21,173.28 572.77,182.92 579.34,189.93 585.04,182.04 593.80,172.85 600.80,171.09 606.93,167.15 610.44,166.72" fill="none" stroke="#3366FF" stroke-width="1.2" stroke-linejoin="round" stroke-linecap="round" />
<polyline points="583.90,139.56 582.41,144.38 578.91,154.01 576.28,164.53 575.40,175.04 579.34,183.80 585.04,178.54 591.17,172.41 597.30,166.28 604.31,161.90 610.44,160.50" fill="none" stroke="#3366FF" stroke-width="1.2" stroke-linejoin="round" stroke-linecap="round" />
<polyline points="586.96,139.56 585.04,145.26 580.66,155.77 578.03,166.28 579.34,175.91 586.79,171.53 592.04,165.40 599.05,158.39 606.06,152.26 610.44,150.34" fill="none" stroke="#3366FF" stroke-width="1.2" stroke-linejoin="round" stroke-linecap="round" />
<polyline points="592.22,139.56 591.17,143.50 586.79,155.77 583.72,165.40 586.35,168.03 592.04,162.77 598.18,157.08 604.31,151.39 610.44,148.58" fill="none" stroke="#3366FF" stroke-width="1.2" stroke-linejoin="round" stroke-linecap="round" />
<polyline points="595.72,139.56 593.80,145.26 591.17,150.51 593.80,157.52 599.05,152.26 606.06,145.26 610.44,141.40" fill="none" stroke="#3366FF" stroke-width="1.2" stroke-linejoin="round" stroke-linecap="round" />
<polyline points="594.23,149.20 595.55,150.95 594.23,152.70 593.09,150.95 594.23,149.20" fill="none" stroke="#3366FF" stroke-width="1.2" stroke-linejoin="round" stroke-linecap="round" />
<polyline points="599.75,139.56 601.68,143.50 607.37,139.56" fill="none" stroke="#3366FF" stroke-width="1.2" stroke-linejoin="round" stroke-linecap="round" />
<polyline points="582.23,200.44 586.79,192.55 593.80,185.55 602.55,184.67 610.44,185.55" fill="none" stroke="#3366FF" stroke-width="1.2" stroke-linejoin="round" stroke-linecap="round" />
<polyline points="587.49,200.44 593.80,190.80 602.55,189.05 610.44,189.93" fill="none" stroke="#3366FF" stroke-width="1.2" stroke-linejoin="round" stroke-linecap="round" />
<polyline points="591.69,200.44 596.42,196.06 602.55,194.74 610.44,194.74" fill="none" stroke="#3366FF" stroke-width="1.2" stroke-linejoin="round" stroke-linecap="round" />
</g>
<g clip-path="url(#bc12)">
<polyline points="609.56,141.58 616.13,144.38 623.14,143.50 628.83,139.56" fill="none" stroke="#3366FF" stroke-width="1.2" stroke-linejoin="round" stroke-linecap="round" />
<polyline points="635.84,139.56 638.91,141.31 645.04,145.26 652.04,151.39 658.18,157.52 661.68,160.15 668.25,162.42" fill="none" stroke="#3366FF" stroke-width="1.2" stroke-linejoin="round" stroke-linecap="round" />
<polyline points="609.56,147.71 616.13,150.95 623.14,149.64 631.02,150.51 638.91,153.58 645.91,158.39 652.04,163.65 659.05,168.47 668.25,169.78" fill="none" stroke="#3366FF" stroke-width="1.2" stroke-linejoin="round" stroke-linecap="round" />
<polyline points="609.56,154.28 617.88,157.08 624.01,160.58 631.90,161.46 638.91,163.65 646.79,168.91 653.80,173.28 660.80,177.66 668.25,177.23" fill="none" stroke="#3366FF" stroke-width="1.2" stroke-linejoin="round" stroke-linecap="round" />
<polyline points="609.56,160.67 617.88,167.15 624.89,168.91 631.02,169.78 638.03,173.28 646.79,177.66 653.80,181.17 660.80,184.67 668.25,183.36" fill="none" stroke="#3366FF" stroke-width="1.2" stroke-linejoin="round" stroke-linecap="round" />
<polyline points="609.56,166.28 612.63,174.16 615.26,175.47 623.14,175.91 631.02,177.66 639.78,182.04 647.66,185.55 655.55,188.61 661.68,190.36 668.25,189.49" fill="none" stroke="#3366FF" stroke-width="1.2" stroke-linejoin="round" stroke-linecap="round" />
<polyline points="609.56,180.29 623.14,180.73 631.90,183.36 639.78,187.30 648.54,190.36 657.30,192.55 662.55,193.87 668.25,192.99" fill="none" stroke="#3366FF" stroke-width="1.2" stroke-linejoin="round" stroke-linecap="round" />
<polyline points="609.56,185.11 623.14,184.23 631.02,185.99 638.91,190.80 647.66,193.43 656.42,196.06 668.25,197.37" fill="none" stroke="#3366FF" stroke-width="1.2" stroke-linejoin="round" stroke-linecap="round" />
<polyline points="609.56,189.14 623.14,187.74 630.15,189.93 638.03,193.87 646.79,196.93 653.80,198.69 656.86,200.44" fill="none" stroke="#3366FF" stroke-width="1.2" stroke-linejoin="round" stroke-linecap="round" />
<polyline points="609.56,195.27 623.14,192.99 627.52,195.18 633.65,198.69 636.72,200.44" fill="none" stroke="#3366FF" stroke-width="1.2" stroke-linejoin="round" stroke-linecap="round" />
<polyline points="655.28,139.56 660.80,147.88 665.18,152.26 668.25,154.01" fill="none" stroke="#3366FF" stroke-width="1.2" stroke-linejoin="round" stroke-linecap="round" />
</g>
<g clip-path="url(#bc13)">
<polyline points="448.10,89.42 451.61,99.34 455.11,112.19 460.36,120.36 467.37,126.20 470.88,133.21 470.29,140.22 467.37,146.06 460.36,150.73 467.96,154.82 473.80,151.31" fill="none" stroke="#3366FF" stroke-width="0.65" stroke-linejoin="round" stroke-linecap="round" />
<polyline points="476.72,150.73 482.55,158.91 490.15,170.58" fill="none" stroke="#3366FF" stroke-width="0.65" stroke-linejoin="round" stroke-linecap="round" />
<polyline points="455.11,89.42 458.03,100.51 460.95,112.19 466.20,119.20 473.80,125.62 477.88,133.21 476.72,142.55 481.39,147.23 487.23,155.40 493.07,164.74 495.99,170.58" fill="none" stroke="#3366FF" stroke-width="0.65" stroke-linejoin="round" stroke-linecap="round" />
<polyline points="458.03,89.42 461.53,101.68 465.04,112.19 470.88,118.03 477.30,123.87 481.39,129.71 484.89,140.22 486.06,148.39 489.56,155.40 495.40,162.41 500.07,170.58" fill="none" stroke="#3366FF" stroke-width="0.65" stroke-linejoin="round" stroke-linecap="round" />
<polyline points="460.95,89.42 465.04,101.68 468.54,111.02 474.38,116.28 481.39,122.12 485.47,129.71 488.39,139.05 490.15,148.39 494.23,154.82 501.24,160.07 507.08,167.08 510.58,170.58" fill="none" stroke="#3366FF" stroke-width="0.65" stroke-linejoin="round" stroke-linecap="round" />
<polyline points="470.29,89.42 470.88,97.01 472.63,104.01 479.05,112.19 484.89,120.36 489.56,129.71 491.90,136.72 493.65,146.06 497.74,153.07 504.74,156.57 510.58,158.91" fill="none" stroke="#3366FF" stroke-width="1.2" stroke-linejoin="round" stroke-linecap="round" />
<polyline points="436.42,95.26 439.93,99.93" fill="none" stroke="#3366FF" stroke-width="0.65" stroke-linejoin="round" stroke-linecap="round" />
<polyline points="442.85,105.18 445.77,110.44" fill="none" stroke="#3366FF" stroke-width="0.65" stroke-linejoin="round" stroke-linecap="round" />
<polyline points="449.85,115.69 452.77,119.78" fill="none" stroke="#3366FF" stroke-width="0.65" stroke-linejoin="round" stroke-linecap="round" />
<polyline points="456.28,125.62 458.61,130.29" fill="none" stroke="#3366FF" stroke-width="0.65" stroke-linejoin="round" stroke-linecap="round" />
<polyline points="460.36,136.72 461.53,142.55" fill="none" stroke="#3366FF" stroke-width="0.65" stroke-linejoin="round" stroke-linecap="round" />
<polyline points="457.45,147.81 454.53,152.48" fill="none" stroke="#3366FF" stroke-width="0.65" stroke-linejoin="round" stroke-linecap="round" />
<polyline points="451.61,157.15 447.52,161.24" fill="none" stroke="#3366FF" stroke-width="0.65" stroke-linejoin="round" stroke-linecap="round" />
<polyline points="442.26,165.33 438.18,168.25" fill="none" stroke="#3366FF" stroke-width="0.65" stroke-linejoin="round" stroke-linecap="round" />
</g>
<g clip-path="url(#bc14)">
<polyline points="433.94,172.72 431.31,177.45 430.44,180.95" fill="none" stroke="#3366FF" stroke-width="0.65" stroke-linejoin="round" stroke-linecap="round" stroke-dasharray="4.6 4.6"/>
<polyline points="426.06,181.82 431.31,187.96 433.94,197.59 432.19,208.10 433.07,218.61 435.69,223.87" fill="none" stroke="#3366FF" stroke-width="0.65" stroke-linejoin="round" stroke-linecap="round" stroke-dasharray="4.6 4.6"/>
<polyline points="452.34,174.82 450.58,183.58 451.46,192.34 446.20,196.72 448.83,204.60 452.34,211.61 456.72,218.61" fill="none" stroke="#3366FF" stroke-width="0.65" stroke-linejoin="round" stroke-linecap="round" stroke-dasharray="4.6 4.6"/>
<polyline points="460.22,173.07 463.72,178.32" fill="none" stroke="#3366FF" stroke-width="0.65" stroke-linejoin="round" stroke-linecap="round" />
<polyline points="467.23,183.58 471.61,182.70" fill="none" stroke="#3366FF" stroke-width="0.65" stroke-linejoin="round" stroke-linecap="round" />
<polyline points="476.86,183.58 480.36,190.58 481.24,199.34 486.50,206.35 490.00,208.10" fill="none" stroke="#3366FF" stroke-width="0.65" stroke-linejoin="round" stroke-linecap="round" stroke-dasharray="4.6 4.6"/>
<polyline points="438.67,177.45 440.07,187.08 438.67,200.22 437.45,187.08 438.67,177.45" fill="none" stroke="#3366FF" stroke-width="0.65" stroke-linejoin="round" stroke-linecap="round" />
<polyline points="440.07,166.41 433.94,170.44" fill="none" stroke="#3366FF" stroke-width="0.65" stroke-linejoin="round" stroke-linecap="round" />
<polyline points="460.74,189.71 461.45,190.93" fill="none" stroke="#3366FF" stroke-width="0.65" stroke-linejoin="round" stroke-linecap="round" />
</g>
<g clip-path="url(#bc15)">
<polyline points="433.50,204.38 432.04,210.22" fill="none" stroke="#3366FF" stroke-width="0.65" stroke-linejoin="round" stroke-linecap="round" />
<polyline points="432.04,216.06 433.94,221.90" fill="none" stroke="#3366FF" stroke-width="0.65" stroke-linejoin="round" stroke-linecap="round" />
<polyline points="437.88,227.01 440.80,231.39" fill="none" stroke="#3366FF" stroke-width="0.65" stroke-linejoin="round" stroke-linecap="round" />
<polyline points="442.26,237.96 442.99,243.80" fill="none" stroke="#3366FF" stroke-width="0.65" stroke-linejoin="round" stroke-linecap="round" />
<polyline points="445.91,248.91 449.56,251.82" fill="none" stroke="#3366FF" stroke-width="0.65" stroke-linejoin="round" stroke-linecap="round" />
<polyline points="455.40,255.47 460.51,254.01" fill="none" stroke="#3366FF" stroke-width="0.65" stroke-linejoin="round" stroke-linecap="round" />
<polyline points="448.83,204.38 451.75,209.49" fill="none" stroke="#3366FF" stroke-width="0.65" stroke-linejoin="round" stroke-linecap="round" />
<polyline points="454.67,215.33 457.59,219.71" fill="none" stroke="#3366FF" stroke-width="0.65" stroke-linejoin="round" stroke-linecap="round" />
<polyline points="461.24,224.82 464.16,229.20" fill="none" stroke="#3366FF" stroke-width="0.65" stroke-linejoin="round" stroke-linecap="round" />
<polyline points="466.35,254.74 470.00,256.93" fill="none" stroke="#3366FF" stroke-width="0.65" stroke-linejoin="round" stroke-linecap="round" />
<polyline points="437.88,198.54 438.61,201.17" fill="none" stroke="#3366FF" stroke-width="0.65" stroke-linejoin="round" stroke-linecap="round" />
<polyline points="442.99,214.60 445.18,213.14 446.64,214.60 445.91,221.90 453.21,222.63 456.13,228.47 461.97,232.85 470.73,235.91" fill="none" stroke="#3366FF" stroke-width="0.65" stroke-linejoin="round" stroke-linecap="round" />
<polyline points="442.99,214.60 445.91,221.90 445.18,229.20 446.64,237.96 450.29,245.26 454.67,249.64 461.97,250.36 470.73,251.97" fill="none" stroke="#3366FF" stroke-width="0.65" stroke-linejoin="round" stroke-linecap="round" />
</g>
<g clip-path="url(#bc16)">
<polyline points="496.72,190.00 508.39,201.68 518.61,211.90 527.37,221.39 530.29,227.96 533.50,232.34 540.51,232.63 550.73,233.80" fill="none" stroke="#3366FF" stroke-width="0.65" stroke-linejoin="round" stroke-linecap="round" />
<polyline points="540.51,195.84 542.99,199.93 550.73,214.09" fill="none" stroke="#3366FF" stroke-width="1.2" stroke-linejoin="round" stroke-linecap="round" />
<polyline points="536.13,197.30 537.59,199.93 543.43,209.71 550.73,220.66" fill="none" stroke="#3366FF" stroke-width="0.65" stroke-linejoin="round" stroke-linecap="round" />
<polyline points="449.27,221.82 453.65,224.31 457.30,230.15 466.06,235.26 474.82,241.09 480.66,246.20 489.42,252.77 493.07,260.07 499.64,265.18 506.06,268.39" fill="none" stroke="#3366FF" stroke-width="0.65" stroke-linejoin="round" stroke-linecap="round" />
<polyline points="449.27,244.01 454.38,249.85 463.14,249.85 470.44,252.77 474.82,254.96 476.28,262.99 482.12,270.29 488.69,277.59 490.88,283.43 495.26,277.59 499.64,273.94 506.06,271.75" fill="none" stroke="#3366FF" stroke-width="0.65" stroke-linejoin="round" stroke-linecap="round" />
<polyline points="520.07,190.00 524.45,198.76 531.75,206.06 539.05,216.28 543.43,225.04 550.73,228.83" fill="none" stroke="#3366FF" stroke-width="0.65" stroke-linejoin="round" stroke-linecap="round" />
<polyline points="522.99,190.00 528.83,198.76 537.59,207.52 543.43,217.74 550.73,221.53" fill="none" stroke="#3366FF" stroke-width="0.65" stroke-linejoin="round" stroke-linecap="round" />
<polyline points="480.66,194.38 481.39,199.49" fill="none" stroke="#3366FF" stroke-width="0.65" stroke-linejoin="round" stroke-linecap="round" />
<polyline points="485.04,204.60 489.42,208.98" fill="none" stroke="#3366FF" stroke-width="0.65" stroke-linejoin="round" stroke-linecap="round" />
<polyline points="495.26,210.44 500.36,212.63" fill="none" stroke="#3366FF" stroke-width="0.65" stroke-linejoin="round" stroke-linecap="round" />
<polyline points="504.01,217.01 507.66,220.66" fill="none" stroke="#3366FF" stroke-width="0.65" stroke-linejoin="round" stroke-linecap="round" />
<polyline points="513.50,223.58 517.88,227.23" fill="none" stroke="#3366FF" stroke-width="0.65" stroke-linejoin="round" stroke-linecap="round" />
<polyline points="521.53,232.34 522.99,238.18" fill="none" stroke="#3366FF" stroke-width="0.65" stroke-linejoin="round" stroke-linecap="round" />
<polyline points="523.72,244.74 527.37,246.20" fill="none" stroke="#3366FF" stroke-width="0.65" stroke-linejoin="round" stroke-linecap="round" />
<polyline points="531.75,241.82 535.40,238.91" fill="none" stroke="#3366FF" stroke-width="0.65" stroke-linejoin="round" stroke-linecap="round" />
<polyline points="541.97,240.36 547.81,241.82" fill="none" stroke="#3366FF" stroke-width="0.65" stroke-linejoin="round" stroke-linecap="round" />
<polyline points="450.00,207.52 451.46,208.98" fill="none" stroke="#3366FF" stroke-width="0.65" stroke-linejoin="round" stroke-linecap="round" />
<polyline points="454.38,215.55 457.30,219.20" fill="none" stroke="#3366FF" stroke-width="0.65" stroke-linejoin="round" stroke-linecap="round" />
<polyline points="460.95,225.04 463.87,229.42" fill="none" stroke="#3366FF" stroke-width="0.65" stroke-linejoin="round" stroke-linecap="round" />
<polyline points="468.98,233.07 473.36,236.72" fill="none" stroke="#3366FF" stroke-width="0.65" stroke-linejoin="round" stroke-linecap="round" />
<polyline points="479.20,240.36 483.58,243.28" fill="none" stroke="#3366FF" stroke-width="0.65" stroke-linejoin="round" stroke-linecap="round" />
<polyline points="489.42,247.66 493.07,249.85" fill="none" stroke="#3366FF" stroke-width="0.65" stroke-linejoin="round" stroke-linecap="round" />
<polyline points="498.18,254.96 501.09,259.34" fill="none" stroke="#3366FF" stroke-width="0.65" stroke-linejoin="round" stroke-linecap="round" />
<polyline points="455.11,254.96 460.22,254.23" fill="none" stroke="#3366FF" stroke-width="0.65" stroke-linejoin="round" stroke-linecap="round" />
<polyline points="466.79,256.42 469.71,258.61" fill="none" stroke="#3366FF" stroke-width="0.65" stroke-linejoin="round" stroke-linecap="round" />
<polyline points="473.36,264.45 474.09,269.56" fill="none" stroke="#3366FF" stroke-width="0.65" stroke-linejoin="round" stroke-linecap="round" />
<polyline points="479.20,273.94 483.58,276.86" fill="none" stroke="#3366FF" stroke-width="0.65" stroke-linejoin="round" stroke-linecap="round" />
<polyline points="504.74,276.86 506.20,279.05 504.74,280.51" fill="none" stroke="#3366FF" stroke-width="0.65" stroke-linejoin="round" stroke-linecap="round" />
<polyline points="514.23,272.48 519.34,274.67" fill="none" stroke="#3366FF" stroke-width="0.65" stroke-linejoin="round" stroke-linecap="round" />
<polyline points="524.45,271.75 528.10,270.29" fill="none" stroke="#3366FF" stroke-width="0.65" stroke-linejoin="round" stroke-linecap="round" />
<polyline points="531.02,277.59 534.67,278.32" fill="none" stroke="#3366FF" stroke-width="0.65" stroke-linejoin="round" stroke-linecap="round" />
<polyline points="509.12,283.43 512.77,279.78 520.07,281.24 531.75,283.43 543.43,285.62 550.73,287.81" fill="none" stroke="#3366FF" stroke-width="0.65" stroke-linejoin="round" stroke-linecap="round" />
</g>
<g clip-path="url(#bc17)">
<polyline points="549.12,212.42 560.51,218.91 576.28,224.16 593.80,225.04 607.81,220.66 620.07,216.28 632.34,211.02 645.47,211.02 655.11,212.77 656.86,225.04 655.11,242.55 652.48,260.07 653.36,277.59 656.86,291.61 662.12,302.12" fill="none" stroke="#3366FF" stroke-width="1.2" stroke-linejoin="round" stroke-linecap="round" />
<polyline points="567.17,189.12 571.02,197.01 579.78,197.88 583.64,189.12" fill="none" stroke="#3366FF" stroke-width="1.2" stroke-linejoin="round" stroke-linecap="round" />
<polyline points="562.79,189.12 566.64,198.76 573.65,204.01 579.78,203.14 587.66,191.75 590.64,189.12" fill="none" stroke="#3366FF" stroke-width="1.2" stroke-linejoin="round" stroke-linecap="round" />
<polyline points="553.50,189.12 557.88,197.01 564.89,206.64 572.77,211.90 582.41,210.15 592.92,197.88 607.81,195.26 620.07,192.63" fill="none" stroke="#3366FF" stroke-width="1.2" stroke-linejoin="round" stroke-linecap="round" />
<polyline points="595.20,189.12 607.81,191.75 620.07,192.63 630.58,197.01 644.60,202.26 658.61,204.01 668.25,204.01" fill="none" stroke="#3366FF" stroke-width="1.2" stroke-linejoin="round" stroke-linecap="round" />
<polyline points="633.39,189.12 644.60,194.38 658.61,197.88 668.25,198.76" fill="none" stroke="#3366FF" stroke-width="1.2" stroke-linejoin="round" stroke-linecap="round" />
<polyline points="640.39,189.12 655.11,193.50 668.25,195.26" fill="none" stroke="#3366FF" stroke-width="1.2" stroke-linejoin="round" stroke-linecap="round" />
<polyline points="549.12,220.31 564.01,225.91 581.53,229.42 597.30,229.42 609.56,225.04 621.82,219.78 634.09,214.53 644.60,213.65 652.48,216.28 653.36,233.80 650.73,247.81 648.10,263.58 648.10,277.59 651.61,295.11" fill="none" stroke="#3366FF" stroke-width="0.65" stroke-linejoin="round" stroke-linecap="round" />
<polyline points="549.12,224.69 565.77,231.17 581.53,233.80 599.05,233.80 613.07,229.42 625.33,223.28 637.59,217.15 646.35,219.78 648.98,230.29 646.35,246.06 641.09,260.07 639.34,274.09 642.85,288.10 646.35,302.12" fill="none" stroke="#3366FF" stroke-width="0.65" stroke-linejoin="round" stroke-linecap="round" />
<polyline points="549.12,229.07 567.52,235.55 585.04,238.18 602.55,237.30 616.57,233.80 625.33,230.29 632.34,224.16 638.47,219.78 644.60,223.28 647.23,230.29 643.72,244.31 637.59,258.32 634.96,272.34 637.59,288.10" fill="none" stroke="#3366FF" stroke-width="0.65" stroke-linejoin="round" stroke-linecap="round" />
<polyline points="632.34,230.29 638.47,224.16 645.47,230.29 638.47,237.30 632.34,230.29" fill="none" stroke="#3366FF" stroke-width="0.65" stroke-linejoin="round" stroke-linecap="round" />
<polyline points="637.59,227.66 641.09,230.29 638.47,232.92" fill="none" stroke="#3366FF" stroke-width="0.65" stroke-linejoin="round" stroke-linecap="round" />
<polyline points="549.12,233.45 564.01,239.05 579.78,243.43 595.55,245.18 609.56,243.43 618.32,240.80 630.58,240.80 636.72,246.06 635.84,256.57 628.83,265.33 622.18,277.59 620.95,288.10 621.82,298.61" fill="none" stroke="#3366FF" stroke-width="0.65" stroke-linejoin="round" stroke-linecap="round" />
<polyline points="553.50,240.80 557.01,241.68" fill="none" stroke="#3366FF" stroke-width="0.65" stroke-linejoin="round" stroke-linecap="round" />
<polyline points="564.01,246.06 571.02,248.69" fill="none" stroke="#3366FF" stroke-width="0.65" stroke-linejoin="round" stroke-linecap="round" />
<polyline points="576.28,250.44 580.66,252.19" fill="none" stroke="#3366FF" stroke-width="0.65" stroke-linejoin="round" stroke-linecap="round" />
<polyline points="586.79,253.94 592.04,253.94" fill="none" stroke="#3366FF" stroke-width="0.65" stroke-linejoin="round" stroke-linecap="round" />
<polyline points="598.18,252.19 602.55,249.56" fill="none" stroke="#3366FF" stroke-width="0.65" stroke-linejoin="round" stroke-linecap="round" />
<polyline points="607.81,246.06 612.19,243.43" fill="none" stroke="#3366FF" stroke-width="0.65" stroke-linejoin="round" stroke-linecap="round" />
<polyline points="617.45,240.80 623.58,240.80" fill="none" stroke="#3366FF" stroke-width="0.65" stroke-linejoin="round" stroke-linecap="round" />
<polyline points="630.58,242.55 634.09,246.06" fill="none" stroke="#3366FF" stroke-width="0.65" stroke-linejoin="round" stroke-linecap="round" />
<polyline points="635.84,253.94 634.09,258.32" fill="none" stroke="#3366FF" stroke-width="0.65" stroke-linejoin="round" stroke-linecap="round" />
<polyline points="627.96,263.58 625.33,268.83" fill="none" stroke="#3366FF" stroke-width="0.65" stroke-linejoin="round" stroke-linecap="round" />
<polyline points="621.82,273.21 618.32,275.84" fill="none" stroke="#3366FF" stroke-width="0.65" stroke-linejoin="round" stroke-linecap="round" />
<polyline points="613.94,281.09 613.07,287.23" fill="none" stroke="#3366FF" stroke-width="0.65" stroke-linejoin="round" stroke-linecap="round" />
<polyline points="668.25,257.45 662.12,267.08 656.86,281.09 655.11,295.11" fill="none" stroke="#3366FF" stroke-width="1.2" stroke-linejoin="round" stroke-linecap="round" />
<polyline points="668.25,267.08 663.87,277.59 660.36,291.61" fill="none" stroke="#3366FF" stroke-width="1.2" stroke-linejoin="round" stroke-linecap="round" />
<polyline points="554.38,296.86 558.76,294.23" fill="none" stroke="#3366FF" stroke-width="0.65" stroke-linejoin="round" stroke-linecap="round" />
</g>
<g clip-path="url(#bc18)">
<polyline points="481.39,270.00 488.69,275.84 490.88,283.87 493.80,278.76 499.64,273.65 505.47,272.19" fill="none" stroke="#3366FF" stroke-width="0.65" stroke-linejoin="round" stroke-linecap="round" />
<polyline points="509.12,284.60 512.77,280.22 520.07,281.68 531.75,283.87 543.43,285.33 550.73,289.27" fill="none" stroke="#3366FF" stroke-width="0.65" stroke-linejoin="round" stroke-linecap="round" />
<polyline points="509.12,284.60 514.23,288.25 521.53,290.44 521.53,299.20 519.34,308.69 524.45,315.26 528.83,321.82 534.67,325.47 539.05,318.18 541.24,307.96 546.35,299.20 550.73,294.23" fill="none" stroke="#3366FF" stroke-width="0.65" stroke-linejoin="round" stroke-linecap="round" />
<polyline points="490.88,296.28 491.61,299.20" fill="none" stroke="#3366FF" stroke-width="0.65" stroke-linejoin="round" stroke-linecap="round" />
<polyline points="494.53,303.58 498.18,305.77" fill="none" stroke="#3366FF" stroke-width="0.65" stroke-linejoin="round" stroke-linecap="round" />
<polyline points="512.04,306.50 512.77,310.88" fill="none" stroke="#3366FF" stroke-width="0.65" stroke-linejoin="round" stroke-linecap="round" />
<polyline points="517.15,315.26 518.61,318.18" fill="none" stroke="#3366FF" stroke-width="0.65" stroke-linejoin="round" stroke-linecap="round" />
<polyline points="521.53,324.74 525.91,328.39" fill="none" stroke="#3366FF" stroke-width="0.65" stroke-linejoin="round" stroke-linecap="round" />
<polyline points="530.29,330.58 535.40,331.31" fill="none" stroke="#3366FF" stroke-width="0.65" stroke-linejoin="round" stroke-linecap="round" />
<polyline points="541.97,327.66 545.62,324.74" fill="none" stroke="#3366FF" stroke-width="0.65" stroke-linejoin="round" stroke-linecap="round" />
<polyline points="546.35,318.18 546.35,312.34" fill="none" stroke="#3366FF" stroke-width="0.65" stroke-linejoin="round" stroke-linecap="round" />
<polyline points="549.27,305.04 550.73,302.85" fill="none" stroke="#3366FF" stroke-width="0.65" stroke-linejoin="round" stroke-linecap="round" />
<polyline points="478.47,274.38 482.85,276.57" fill="none" stroke="#3366FF" stroke-width="0.65" stroke-linejoin="round" stroke-linecap="round" />
<polyline points="485.04,283.87 486.50,286.79" fill="none" stroke="#3366FF" stroke-width="0.65" stroke-linejoin="round" stroke-linecap="round" />
<polyline points="504.74,277.30 506.20,280.22" fill="none" stroke="#3366FF" stroke-width="0.65" stroke-linejoin="round" stroke-linecap="round" />
<polyline points="514.23,272.19 518.61,274.38" fill="none" stroke="#3366FF" stroke-width="0.65" stroke-linejoin="round" stroke-linecap="round" />
<polyline points="524.45,272.19 527.37,270.00" fill="none" stroke="#3366FF" stroke-width="0.65" stroke-linejoin="round" stroke-linecap="round" />
</g>
<g clip-path="url(#bc19)">
<polyline points="620.95,273.50 617.45,277.01" fill="none" stroke="#3366FF" stroke-width="0.65" stroke-linejoin="round" stroke-linecap="round" />
<polyline points="614.82,281.39 613.07,287.52" fill="none" stroke="#3366FF" stroke-width="0.65" stroke-linejoin="round" stroke-linecap="round" />
<polyline points="613.07,292.77 612.19,298.91" fill="none" stroke="#3366FF" stroke-width="0.65" stroke-linejoin="round" stroke-linecap="round" />
<polyline points="611.31,305.04 608.69,310.29" fill="none" stroke="#3366FF" stroke-width="0.65" stroke-linejoin="round" stroke-linecap="round" />
<polyline points="607.81,316.42 608.69,322.55" fill="none" stroke="#3366FF" stroke-width="0.65" stroke-linejoin="round" stroke-linecap="round" />
<polyline points="610.44,328.69 613.07,333.94" fill="none" stroke="#3366FF" stroke-width="0.65" stroke-linejoin="round" stroke-linecap="round" />
<polyline points="614.82,339.20 618.32,342.70" fill="none" stroke="#3366FF" stroke-width="0.65" stroke-linejoin="round" stroke-linecap="round" />
<polyline points="624.45,344.45 629.71,346.20" fill="none" stroke="#3366FF" stroke-width="0.65" stroke-linejoin="round" stroke-linecap="round" />
<polyline points="634.96,349.71 639.34,352.34" fill="none" stroke="#3366FF" stroke-width="0.65" stroke-linejoin="round" stroke-linecap="round" />
<polyline points="644.60,355.84 649.85,359.34" fill="none" stroke="#3366FF" stroke-width="0.65" stroke-linejoin="round" stroke-linecap="round" />
<polyline points="554.38,298.03 558.76,294.53" fill="none" stroke="#3366FF" stroke-width="0.65" stroke-linejoin="round" stroke-linecap="round" />
<polyline points="549.12,291.90 551.40,293.12" fill="none" stroke="#3366FF" stroke-width="0.65" stroke-linejoin="round" stroke-linecap="round" />
<polyline points="623.58,270.00 620.95,278.76 620.95,292.77 623.58,305.04 627.96,315.55 630.58,322.55 637.59,331.31 641.09,336.57 645.47,345.33 653.36,353.21 662.12,361.09" fill="none" stroke="#3366FF" stroke-width="0.65" stroke-linejoin="round" stroke-linecap="round" />
<polyline points="634.96,270.00 634.09,280.51 635.84,289.27 639.34,298.03 639.34,310.29 642.85,319.05 649.85,326.06 658.61,332.19 668.25,337.80" fill="none" stroke="#3366FF" stroke-width="0.65" stroke-linejoin="round" stroke-linecap="round" />
<polyline points="642.85,270.00 641.09,280.51 641.97,292.77 644.60,305.04 647.23,313.80 653.36,320.80 660.36,326.06 668.25,328.16" fill="none" stroke="#3366FF" stroke-width="0.65" stroke-linejoin="round" stroke-linecap="round" />
<polyline points="650.73,270.00 648.10,280.51 647.23,292.77 648.10,303.28 652.48,312.04 658.61,319.05 668.25,322.91" fill="none" stroke="#3366FF" stroke-width="1.2" stroke-linejoin="round" stroke-linecap="round" />
<polyline points="658.61,270.00 655.11,284.01 654.23,296.28 655.99,305.04 662.12,313.80 668.25,317.65" fill="none" stroke="#3366FF" stroke-width="1.2" stroke-linejoin="round" stroke-linecap="round" />
<polyline points="663.87,270.00 659.49,284.01 658.61,294.53 660.36,303.28 668.25,309.94" fill="none" stroke="#3366FF" stroke-width="1.2" stroke-linejoin="round" stroke-linecap="round" />
<polyline points="668.25,279.64 663.87,289.27 663.87,298.03 668.25,305.74" fill="none" stroke="#3366FF" stroke-width="1.2" stroke-linejoin="round" stroke-linecap="round" />
</g>
<g clip-path="url(#bc20)">
<polyline points="630.15,239.49 634.74,243.07 637.61,246.64 636.79,251.24 634.23,258.39 629.64,265.55 625.55,271.68 621.46,277.81 621.26,285.99 621.97,295.18 624.01,303.36 625.75,310.51" fill="none" stroke="#3366FF" stroke-width="0.65" stroke-linejoin="round" stroke-linecap="round" />
<polyline points="635.97,252.26 633.72,257.88" fill="none" stroke="#3366FF" stroke-width="0.65" stroke-linejoin="round" stroke-linecap="round" />
<polyline points="630.66,243.07 634.23,246.13" fill="none" stroke="#3366FF" stroke-width="0.65" stroke-linejoin="round" stroke-linecap="round" />
<polyline points="635.77,254.31 633.72,258.91" fill="none" stroke="#3366FF" stroke-width="0.65" stroke-linejoin="round" stroke-linecap="round" />
<polyline points="629.12,264.01 626.57,268.10" fill="none" stroke="#3366FF" stroke-width="0.65" stroke-linejoin="round" stroke-linecap="round" />
<polyline points="622.48,272.70 618.39,276.28" fill="none" stroke="#3366FF" stroke-width="0.65" stroke-linejoin="round" stroke-linecap="round" />
<polyline points="614.82,280.88 613.28,286.50" fill="none" stroke="#3366FF" stroke-width="0.65" stroke-linejoin="round" stroke-linecap="round" />
<polyline points="613.08,292.12 613.28,298.76" fill="none" stroke="#3366FF" stroke-width="0.65" stroke-linejoin="round" stroke-linecap="round" />
<polyline points="611.75,305.40 609.71,310.00" fill="none" stroke="#3366FF" stroke-width="0.65" stroke-linejoin="round" stroke-linecap="round" />
<polyline points="647.01,239.49 646.50,245.11 640.88,252.26 638.32,260.44 635.26,269.64 633.72,277.81 635.26,285.99 639.34,293.14 640.88,301.31 641.39,310.51" fill="none" stroke="#3366FF" stroke-width="0.65" stroke-linejoin="round" stroke-linecap="round" />
<polyline points="650.58,239.49 650.07,246.13 645.99,256.35 642.92,266.57 641.39,275.77 641.90,284.96 643.94,293.14 644.96,301.31 645.07,310.51" fill="none" stroke="#3366FF" stroke-width="0.65" stroke-linejoin="round" stroke-linecap="round" />
<polyline points="653.14,239.49 652.63,248.18 649.05,260.44 646.50,272.70 645.47,282.92 645.99,291.09 647.52,299.27 648.13,310.51" fill="none" stroke="#3366FF" stroke-width="0.65" stroke-linejoin="round" stroke-linecap="round" />
<polyline points="656.00,239.49 655.69,250.22 653.14,262.48 650.07,274.74 648.03,284.96 648.03,293.14 649.56,301.31 651.30,310.51" fill="none" stroke="#3366FF" stroke-width="1.2" stroke-linejoin="round" stroke-linecap="round" />
<polyline points="668.26,256.15 664.38,261.46 661.31,270.66 657.23,282.92 654.67,291.09 654.16,297.23 655.69,303.36 660.09,310.51" fill="none" stroke="#3366FF" stroke-width="1.2" stroke-linejoin="round" stroke-linecap="round" />
<polyline points="668.26,260.95 665.40,268.61 662.34,277.81 659.27,287.01 658.25,293.14 658.25,300.29 661.31,305.40 665.91,310.51" fill="none" stroke="#3366FF" stroke-width="1.2" stroke-linejoin="round" stroke-linecap="round" />
<polyline points="668.26,269.12 665.40,278.83 663.36,285.99 662.34,293.14 662.54,300.29 665.40,304.38 668.26,306.93" fill="none" stroke="#3366FF" stroke-width="1.2" stroke-linejoin="round" stroke-linecap="round" />
<polyline points="668.26,279.34 666.42,285.99 665.40,293.14 665.91,298.25 668.26,301.82" fill="none" stroke="#3366FF" stroke-width="1.2" stroke-linejoin="round" stroke-linecap="round" />
</g>
<polygon points="372.00,69.05 373.07,69.05 375.11,67.52 377.66,66.50 380.22,63.43 382.77,61.39 386.35,62.92 390.44,64.96 395.55,66.80 399.64,66.50 403.72,69.05 407.81,74.16 410.88,78.25 413.80,82.41 414.89,88.98 420.36,96.64 427.37,107.59 428.69,110.00 432.19,117.01 434.82,124.01 433.42,132.77 432.72,141.53 434.47,151.17 433.94,156.95 426.06,158.18 417.30,160.45 409.94,162.20 406.79,160.80 403.64,162.55 402.93,167.81 404.16,174.82 407.66,181.82 411.17,187.08 412.04,190.58 408.89,194.96 409.42,199.34 409.42,200.00 415.26,203.65 420.36,204.38 422.26,210.22 421.82,216.06 419.64,221.90 417.45,227.74 418.18,233.58 420.80,237.96 419.64,241.61 423.28,246.72 427.66,250.36 431.31,253.28 434.23,252.55 434.53,247.45 437.15,244.96 438.61,248.18 438.61,251.82 441.53,254.74 445.91,256.20 449.56,259.85 453.94,262.77 459.05,263.50 464.16,260.58 467.08,261.31 468.54,265.69 470.00,271.53 471.90,275.84 475.55,280.95 478.47,281.68 481.39,282.41 479.93,286.06 477.01,288.25 475.55,291.90 478.47,296.28 483.58,302.12 488.69,308.69 492.34,313.07 495.26,315.26 499.64,313.80 503.28,313.07 503.72,308.69 507.66,308.25 509.85,310.15 509.12,314.53 512.04,315.99 514.23,316.72 513.50,320.36 510.58,324.74 509.85,327.66 514.23,326.93 516.42,332.04 518.61,335.69 522.99,338.61 527.37,340.07 531.75,339.34 537.59,337.88 541.97,337.15 543.43,334.23 546.35,334.96 550.00,331.31 552.63,331.31 553.50,326.06 557.01,321.68 555.26,317.30 557.88,310.29 562.26,307.66 564.89,300.66 568.39,296.28 566.64,292.77 560.51,290.15 559.64,286.64 557.01,289.27 550.00,285.77 543.43,280.95 537.59,280.22 533.21,277.30 531.75,274.38 536.13,273.21 533.21,269.56 534.67,264.45 539.78,261.53 543.43,255.69 550.00,254.23 553.50,249.56 557.01,244.31 558.41,247.81 557.88,251.31 564.01,253.94 572.77,256.57 581.53,259.20 590.29,261.47 597.30,260.95 602.55,257.45 609.56,252.19 616.57,249.56 623.58,251.31 628.83,250.44 629.71,255.69 627.08,260.07 624.45,263.58 623.58,268.83 617.45,273.50 609.56,276.13 605.18,279.64 605.18,287.52 606.41,296.28 604.31,305.04 601.68,312.04 599.05,316.42 594.67,314.67 591.17,319.05 592.04,327.81 594.67,338.32 599.05,347.08 603.43,354.96 608.69,361.09 608.69,362.20 372.00,362.20" fill="#F0EFDE" stroke="#555555" stroke-width="0.7" stroke-linejoin="round" />
<polyline points="373.27,68.64 375.31,67.21 377.36,66.80" fill="none" stroke="#888" stroke-width="1.1" stroke-linejoin="round" stroke-linecap="round" />
<polyline points="475.11,280.80 476.57,278.47" fill="none" stroke="#444" stroke-width="1.6" stroke-linejoin="round" stroke-linecap="round" />
<polyline points="510.15,327.23 511.31,324.89" fill="none" stroke="#444" stroke-width="1.4" stroke-linejoin="round" stroke-linecap="round" />
</g>
<circle cx="498.0" cy="126.2" r="3.7" fill="#B4B8B7" fill-opacity="0.85" stroke="#6E6E6E" stroke-width="0.8"/>
<circle cx="474.0" cy="147.1" r="3.7" fill="#B4B8B7" fill-opacity="0.85" stroke="#6E6E6E" stroke-width="0.8"/>
<circle cx="436.2" cy="192.3" r="3.7" fill="#B4B8B7" fill-opacity="0.85" stroke="#6E6E6E" stroke-width="0.8"/>
<circle cx="432.0" cy="235.0" r="3.7" fill="#B4B8B7" fill-opacity="0.85" stroke="#6E6E6E" stroke-width="0.8"/>
<circle cx="533.5" cy="232.3" r="3.7" fill="#B4B8B7" fill-opacity="0.85" stroke="#6E6E6E" stroke-width="0.8"/>
<circle cx="474.8" cy="255.0" r="3.7" fill="#B4B8B7" fill-opacity="0.85" stroke="#6E6E6E" stroke-width="0.8"/>
<circle cx="506.1" cy="268.4" r="3.7" fill="#B4B8B7" fill-opacity="0.85" stroke="#6E6E6E" stroke-width="0.8"/>
<circle cx="533.9" cy="293.6" r="3.7" fill="#B4B8B7" fill-opacity="0.85" stroke="#6E6E6E" stroke-width="0.8"/>
<rect x="528.0" y="184.6" width="38.8" height="13.4" fill="#D7F7F6" fill-opacity="0.62"/>
<circle cx="553.5" cy="206.6" r="4.3" fill="#BF2CF2"/>
<text x="528.40" y="196.60" font-size="15.00" fill="#C23AF3" text-anchor="start" font-weight="normal" >STO1</text>
<circle cx="488.5" cy="292.8" r="4.3" fill="#EE9D22"/>
<rect x="496.8" y="289.0" width="28.2" height="13.2" fill="#D7F7F6" fill-opacity="0.62"/>
<text x="496.80" y="300.90" font-size="14.60" fill="#EE9D22" text-anchor="start" font-weight="normal" >HP1</text>
<rect x="382.80" y="339.9" width="17.05" height="11.4" fill="#000"/>
<rect x="399.85" y="339.9" width="17.05" height="11.4" fill="#fff"/>
<rect x="416.90" y="339.9" width="17.05" height="11.4" fill="#000"/>
<rect x="433.95" y="339.9" width="17.05" height="11.4" fill="#fff"/>
<rect x="382.8" y="339.9" width="68.2" height="11.4" fill="none" stroke="#000" stroke-width="0.8"/>
<text x="457.00" y="350.00" font-size="12.30" fill="#000" text-anchor="start" font-weight="normal" >4 km</text>
<rect x="373.3" y="25.5" width="294.5" height="335.7" fill="none" stroke="#666" stroke-width="1.4"/>
<line x1="407.3" x2="407.3" y1="21.5" y2="25.5" stroke="#333" stroke-width="1.3"/>
<text x="407.30" y="19.60" font-size="13.20" fill="#4D4D4D" text-anchor="middle" font-weight="normal" >157.85°W</text>
<line x1="494.4" x2="494.4" y1="21.5" y2="25.5" stroke="#333" stroke-width="1.3"/>
<text x="494.40" y="19.60" font-size="13.20" fill="#4D4D4D" text-anchor="middle" font-weight="normal" >157.80°W</text>
<line x1="581.5" x2="581.5" y1="21.5" y2="25.5" stroke="#333" stroke-width="1.3"/>
<text x="581.50" y="19.60" font-size="13.20" fill="#4D4D4D" text-anchor="middle" font-weight="normal" >157.75°W</text>
<line x1="667.8" x2="667.8" y1="21.5" y2="25.5" stroke="#333" stroke-width="1.3"/>
<text x="683.80" y="19.60" font-size="13.20" fill="#4D4D4D" text-anchor="end" font-weight="normal" >157.70°W</text>
<line x1="368.7" x2="373.0" y1="80.9" y2="80.9" stroke="#333" stroke-width="1.3"/>
<text transform="translate(365.70,81.40) rotate(-90)" font-size="13.20" fill="#4D4D4D" text-anchor="start" font-weight="normal">21.55°N</text>
<line x1="368.7" x2="373.0" y1="174.7" y2="174.7" stroke="#333" stroke-width="1.3"/>
<text transform="translate(365.70,175.20) rotate(-90)" font-size="13.20" fill="#4D4D4D" text-anchor="start" font-weight="normal">21.50°N</text>
<line x1="368.7" x2="373.0" y1="268.2" y2="268.2" stroke="#333" stroke-width="1.3"/>
<text transform="translate(365.70,268.70) rotate(-90)" font-size="13.20" fill="#4D4D4D" text-anchor="start" font-weight="normal">21.45°N</text>
<line x1="368.7" x2="373.0" y1="361.2" y2="361.2" stroke="#333" stroke-width="1.3"/>
<text transform="translate(365.70,361.80) rotate(-90)" font-size="13.20" fill="#4D4D4D" text-anchor="start" font-weight="normal">21.40°N</text>
</g>
<g id="panel-c">
<text x="1.30" y="387.70" font-size="18.00" fill="#000" text-anchor="start" font-weight="bold" >c)</text>
<defs><clipPath id="cframe"><rect x="82.6" y="389.8" width="584.0" height="370.2"/></clipPath></defs>
<g clip-path="url(#cframe)">
<path d="M175.2,404.2 L174.0,403.3 L172.9,403.0 L171.8,403.3 L170.6,404.2 L170.0,405.6 L170.3,407.2 L168.2,414.0 L167.2,424.2 L166.8,456.3 L166.4,465.6 L162.8,464.8 L161.0,459.0 L159.8,448.8 L159.5,448.5 L158.9,447.0 L158.4,446.4 L157.4,445.9 L156.3,445.9 L155.2,446.2 L154.3,447.0 L153.8,448.0 L153.8,449.5 L153.3,450.2 L151.1,457.5 L150.4,468.5 L147.4,468.5 L143.8,465.6 L140.9,459.0 L140.2,448.0 L139.5,446.7 L138.7,445.9 L137.6,445.6 L136.9,445.6 L135.8,445.9 L134.9,446.7 L134.3,448.0 L132.8,454.6 L129.9,459.0 L129.2,454.6 L128.4,453.7 L128.4,452.7 L127.9,451.6 L127.0,450.9 L125.9,450.5 L124.8,450.6 L123.5,451.4 L122.9,452.3 L122.7,453.0 L122.8,454.3 L122.6,454.6 L121.9,469.2 L119.0,471.4 L117.5,478.0 L114.6,483.8 L111.0,488.2 L109.5,501.3 L106.6,505.7 L105.8,513.0 L105.8,524.7 L187.6,505.7 L193.4,502.8 L195.8,499.2 L196.1,513.8 L197.3,535.7 L198.4,542.3 L198.1,543.4 L198.1,544.5 L198.6,545.5 L199.8,546.4 L200.9,546.6 L202.1,546.4 L203.0,545.8 L203.9,544.5 L205.3,538.6 L208.2,540.1 L210.4,551.8 L212.1,565.0 L211.2,565.3 L210.3,566.1 L209.8,567.1 L209.8,568.2 L210.1,569.3 L210.6,569.9 L211.5,570.5 L212.5,570.7 L212.6,574.6 L214.2,587.1 L215.0,588.4 L216.3,589.1 L217.4,589.2 L220.7,588.5 L225.8,603.8 L227.2,618.4 L228.7,641.8 L230.7,652.6 L230.6,653.8 L231.0,654.9 L231.4,655.5 L232.4,656.1 L233.9,656.3 L234.6,656.1 L235.6,655.5 L236.0,654.9 L236.4,653.8 L236.4,653.1 L236.1,652.2 L237.0,641.8 L237.4,621.3 L238.9,608.2 L243.7,608.2 L245.0,607.6 L245.8,606.7 L246.1,606.0 L246.2,604.9 L245.6,603.5 L246.2,602.3 L248.4,605.3 L250.6,614.0 L252.8,624.2 L255.7,627.9 L257.9,634.5 L259.3,660.7 L262.0,664.5 L264.9,666.4 L265.5,667.4 L266.2,667.8 L267.2,668.2 L268.0,668.2 L271.6,667.0 L274.7,655.0 L276.8,642.2 L279.8,636.0 L281.5,640.0 L281.5,659.0 L284.4,672.1 L289.5,677.2 L289.9,678.7 L290.6,679.6 L292.0,680.1 L293.5,679.9 L294.7,679.0 L295.2,678.0 L295.3,677.2 L294.6,661.9 L293.1,648.8 L291.7,640.0 L291.7,630.1 L288.8,615.5 L280.0,603.8 L276.9,602.4 L275.8,602.4 L275.0,602.6 L273.8,603.5 L273.3,604.5 L273.3,606.0 L273.8,607.0 L271.8,614.0 L270.0,622.8 L267.4,615.5 L264.4,608.2 L261.5,599.4 L260.1,574.6 L233.8,560.0 L231.4,559.8 L230.9,557.6 L223.6,535.7 L214.8,512.3 L214.1,499.2 L214.2,495.7 L213.5,482.6 L212.0,473.8 L207.7,453.4 L200.4,450.5 L199.5,444.5 L199.5,443.1 L199.2,442.4 L198.5,441.6 L197.5,441.1 L196.7,441.0 L192.3,441.7 L190.2,437.3 L189.3,430.0 L189.3,428.5 L188.6,427.2 L187.3,426.5 L186.1,426.4 L185.1,426.8 L184.2,427.5 L183.7,428.5 L183.6,429.6 L182.8,431.5 L182.1,443.2 L179.9,433.7 L177.7,428.6 L177.4,414.0 L175.6,407.0 L175.8,405.9 L175.7,405.2ZM324.4,632.1 L323.4,631.5 L322.3,631.2 L315.0,631.2 L315.1,631.7 L313.6,631.2 L301.9,631.2 L301.9,683.8 L302.6,710.1 L304.1,718.8 L304.9,719.8 L304.9,720.7 L305.2,721.8 L306.0,722.6 L307.0,723.1 L308.1,723.2 L309.2,722.8 L310.3,721.8 L310.6,720.7 L310.6,719.8 L311.4,718.8 L312.9,676.5 L315.0,654.6 L313.9,637.0 L315.0,636.7 L315.7,636.2 L318.0,654.6 L322.3,676.5 L323.8,698.4 L324.5,715.9 L326.2,725.8 L326.6,726.5 L327.5,727.2 L328.9,727.6 L330.0,727.4 L330.7,727.0 L331.2,726.5 L331.7,725.4 L331.8,724.3 L331.3,723.0 L331.8,717.4 L336.2,713.0 L336.9,698.4 L336.2,683.8 L336.0,683.4 L336.2,682.3 L336.1,681.6 L335.6,680.6 L334.7,679.8 L334.0,679.5 L332.5,679.5 L329.6,680.9 L328.2,669.2 L325.3,654.6 L323.1,636.9 L324.4,636.2 L325.1,634.9 L325.1,633.4ZM449.7,437.0 L448.4,436.2 L446.9,436.2 L445.6,437.0 L444.9,438.3 L444.2,444.6 L442.3,473.8 L440.1,476.7 L438.6,494.2 L437.1,502.3 L432.8,503.0 L429.9,500.1 L429.1,488.4 L427.7,457.7 L425.5,451.9 L424.7,438.8 L424.4,438.5 L424.0,437.6 L423.6,437.0 L422.6,436.4 L421.9,436.2 L421.2,436.2 L420.1,436.5 L419.5,437.0 L418.9,437.9 L418.6,439.0 L418.7,439.8 L417.9,444.6 L417.4,488.4 L413.8,494.2 L412.3,505.9 L411.6,523.4 L410.1,530.7 L410.1,575.5 L408.7,575.5 L408.0,563.8 L406.5,552.9 L405.4,552.2 L404.3,551.0 L403.2,550.7 L402.5,550.7 L401.4,551.0 L400.5,551.8 L399.9,552.9 L397.0,552.1 L396.3,540.4 L395.5,539.6 L395.3,538.1 L394.7,537.2 L393.7,536.6 L393.0,536.4 L392.3,536.4 L391.2,536.7 L390.1,537.8 L389.8,538.5 L389.8,539.6 L389.0,540.4 L388.2,553.6 L384.6,553.6 L383.9,544.8 L383.1,544.1 L383.0,543.3 L382.5,542.3 L381.7,541.6 L380.6,541.2 L379.1,541.4 L378.2,542.0 L377.5,543.0 L377.3,544.1 L376.6,544.8 L375.4,559.8 L374.9,561.1 L374.9,561.8 L375.2,562.7 L375.1,564.0 L374.9,564.4 L372.7,577.5 L370.5,596.5 L367.6,602.3 L364.7,603.8 L363.2,596.5 L362.5,595.8 L362.1,594.3 L361.3,593.4 L359.9,592.9 L359.2,592.9 L358.1,593.2 L357.3,594.0 L356.8,595.0 L356.7,595.8 L355.9,596.5 L355.2,603.8 L355.2,647.6 L382.2,647.6 L382.2,620.7 L384.2,620.7 L385.3,620.3 L386.2,619.6 L386.7,618.2 L386.7,617.1 L386.2,616.1 L385.3,615.3 L384.2,614.9 L384.6,606.1 L386.1,601.8 L387.5,591.5 L393.4,590.1 L401.4,591.5 L402.9,604.7 L405.0,613.4 L406.7,614.6 L407.7,615.8 L408.7,616.3 L409.8,616.3 L410.5,616.1 L411.5,615.5 L411.9,614.9 L412.3,613.8 L413.8,601.8 L415.3,585.7 L416.0,563.8 L416.4,539.0 L417.0,533.1 L420.5,527.3 L421.2,516.2 L422.1,516.2 L422.9,525.8 L424.0,533.1 L428.4,539.0 L431.3,544.8 L432.1,545.5 L432.7,546.6 L433.9,547.5 L435.0,547.7 L436.1,547.5 L436.9,546.9 L438.6,546.3 L440.8,540.4 L443.7,531.7 L445.2,543.5 L444.1,544.0 L443.2,545.2 L443.0,546.7 L443.4,547.8 L444.5,548.8 L445.5,549.2 L458.5,549.2 L458.5,561.4 L548.5,561.4 L548.5,582.2 L552.9,582.2 L552.9,606.5 L555.1,612.3 L560.2,613.8 L563.9,616.7 L566.0,617.4 L567.2,617.4 L568.6,616.9 L569.5,615.7 L569.7,614.2 L569.1,612.7 L569.7,603.6 L573.4,602.9 L575.5,597.7 L575.9,582.2 L589.4,582.2 L589.4,586.1 L590.2,586.8 L590.4,587.9 L591.0,588.9 L592.0,589.5 L593.1,589.7 L594.2,589.5 L595.1,588.9 L595.7,587.9 L596.0,586.8 L596.7,586.1 L596.9,582.2 L601.8,582.2 L601.8,584.6 L603.3,599.2 L604.7,628.4 L608.4,632.8 L609.1,657.6 L609.7,670.7 L609.8,686.0 L611.0,690.5 L613.0,692.6 L615.1,692.8 L615.9,692.8 L617.0,692.4 L617.6,692.0 L618.2,691.0 L618.4,689.9 L618.3,689.0 L618.9,687.0 L619.6,664.0 L620.8,660.5 L622.9,661.1 L624.1,661.2 L625.2,660.8 L626.2,659.8 L626.6,658.3 L626.5,657.5 L626.0,656.6 L626.6,651.8 L628.8,657.6 L630.4,664.0 L631.3,682.0 L631.5,704.0 L632.8,709.0 L635.0,711.8 L638.4,712.0 L639.8,711.4 L640.7,710.2 L640.9,708.8 L641.8,706.0 L642.2,684.0 L641.8,677.0 L639.0,672.0 L636.1,670.7 L634.7,651.8 L633.2,645.9 L630.3,621.1 L628.8,606.5 L628.1,598.1 L628.7,597.0 L628.7,595.5 L628.2,594.5 L627.4,593.7 L626.3,593.4 L625.2,593.5 L624.1,594.0 L623.4,594.8 L623.0,595.9 L623.1,596.8 L614.2,584.6 L613.3,582.2 L614.2,582.2 L614.2,554.5 L607.7,553.0 L606.2,548.6 L601.8,528.2 L601.1,518.0 L598.2,513.6 L593.4,512.9 L592.0,513.4 L591.1,514.6 L590.9,516.1 L591.5,517.5 L590.9,531.1 L588.0,528.2 L585.8,523.8 L585.0,510.7 L583.6,501.9 L582.8,501.1 L582.6,500.0 L582.2,499.4 L581.0,498.5 L580.3,498.3 L579.2,498.3 L578.2,498.8 L577.6,499.4 L577.3,500.0 L577.0,501.1 L576.3,501.9 L574.8,512.1 L573.4,523.8 L572.2,537.5 L570.8,537.0 L564.2,537.0 L563.5,537.2 L562.5,537.8 L561.8,539.1 L561.7,540.2 L562.3,541.6 L563.1,542.3 L564.4,542.7 L563.9,564.7 L557.3,564.7 L557.1,561.4 L558.1,561.4 L556.8,538.5 L555.0,526.6 L550.5,510.3 L550.2,510.1 L550.0,509.2 L548.5,507.7 L548.5,508.5 L547.6,508.1 L546.5,508.0 L545.4,508.3 L544.6,509.1 L543.9,510.0 L541.6,515.0 L539.3,525.5 L537.5,518.5 L535.8,503.4 L535.9,494.2 L534.5,489.9 L533.4,489.4 L532.3,488.6 L530.9,488.4 L530.1,488.6 L529.1,489.3 L527.9,489.9 L524.2,492.8 L521.3,491.3 L520.6,473.8 L519.1,459.2 L518.2,454.4 L518.3,453.0 L517.8,451.6 L516.9,450.8 L515.8,450.5 L514.7,450.5 L513.7,451.0 L512.8,452.2 L512.6,453.0 L512.6,453.9 L511.8,456.3 L511.4,473.8 L510.4,491.3 L508.9,485.5 L508.2,473.8 L503.8,453.4 L502.1,452.7 L501.3,452.1 L500.1,451.9 L498.7,452.3 L497.6,453.3 L497.2,454.8 L497.5,455.9 L496.5,459.2 L495.8,478.2 L494.3,495.7 L487.0,515.4 L480.9,516.4 L474.6,513.9 L471.4,511.8 L470.7,505.2 L470.7,484.7 L466.6,484.1 L466.1,482.5 L465.9,481.1 L465.3,480.2 L464.3,479.6 L461.7,478.9 L460.6,479.1 L459.9,479.5 L459.3,480.2 L458.5,480.4 L458.5,481.6 L457.6,484.0 L456.1,478.2 L454.7,466.5 L453.9,454.8 L451.5,447.5 L451.0,439.1 L450.5,438.6 L450.2,437.6ZM342.2,710.8 L342.7,711.9 L343.5,712.6 L344.6,713.0 L345.3,713.0 L346.1,712.8 L347.0,712.1 L347.5,711.5 L347.8,710.5 L347.6,709.0 L347.9,708.6 L348.6,683.8 L348.6,637.1 L340.6,637.1 L340.6,669.2ZM361.8,683.8 L362.7,685.1 L362.5,686.0 L362.7,687.1 L363.1,687.8 L363.9,688.5 L365.0,688.9 L366.2,688.8 L367.2,688.3 L367.9,687.5 L368.3,686.0 L369.1,669.2 L361.8,669.2Z" fill="#BEBFBE" fill-rule="evenodd"/>
<path d="M377.3,561.7 L377.5,562.6 L377.4,564.2 L375.0,577.8 L372.8,597.0 L369.6,603.4 L368.8,604.3 L365.5,605.9 L364.6,606.1 L363.6,605.8 L362.9,605.2 L362.5,604.5 L361.1,597.6 L360.4,596.8 L359.9,595.3 L359.5,595.2 L359.1,595.4 L358.8,596.6 L358.1,597.5 L357.5,603.9 L357.5,645.3 L379.9,645.3 L379.9,620.5 L380.3,619.5 L381.1,618.7 L382.0,618.4 L384.0,618.4 L384.4,618.0 L384.2,617.4 L383.1,617.0 L382.4,616.5 L381.9,615.3 L382.3,606.0 L383.8,601.2 L385.3,591.0 L385.7,590.2 L386.3,589.6 L393.3,587.8 L401.8,589.3 L403.0,589.9 L403.7,591.3 L405.1,604.3 L407.1,612.0 L408.4,613.0 L409.1,614.0 L409.6,614.0 L410.0,613.7 L411.5,601.5 L413.0,585.5 L413.7,563.7 L414.1,538.9 L414.7,532.9 L415.0,532.0 L418.3,526.6 L419.0,515.8 L419.6,514.6 L420.6,514.0 L422.1,513.9 L423.0,514.1 L423.8,514.6 L424.3,515.4 L425.1,525.6 L426.2,532.2 L430.3,537.8 L433.1,543.3 L434.0,544.2 L434.5,545.3 L435.1,545.4 L436.8,544.5 L441.8,530.3 L443.1,529.5 L444.7,529.6 L445.4,530.2 L446.0,531.2 L447.5,543.4 L447.1,544.7 L446.5,545.4 L445.5,545.9 L445.4,546.6 L446.0,546.9 L458.8,546.9 L460.0,547.4 L460.6,548.1 L460.8,549.0 L460.8,559.1 L548.5,559.1 L549.8,559.5 L550.5,560.1 L550.8,561.2 L550.8,579.9 L553.1,579.9 L554.0,580.2 L554.8,580.9 L555.2,582.0 L555.2,606.1 L556.9,610.4 L561.3,611.8 L564.9,614.6 L566.8,615.1 L567.4,614.7 L566.8,612.6 L567.4,603.4 L567.7,602.5 L568.8,601.5 L571.7,600.8 L573.3,597.2 L573.6,582.1 L573.8,581.3 L574.3,580.5 L575.1,580.1 L575.9,579.9 L589.4,579.9 L590.3,580.1 L591.0,580.6 L591.5,581.3 L591.7,585.1 L592.3,586.0 L592.6,587.1 L593.1,587.4 L593.6,587.1 L593.8,585.9 L594.5,585.1 L594.6,581.7 L595.5,580.4 L596.9,579.9 L601.8,579.9 L602.9,580.2 L603.7,580.9 L604.1,582.0 L604.1,584.5 L605.6,599.1 L607.0,627.5 L610.3,631.5 L610.7,632.5 L612.0,670.6 L612.1,685.7 L613.1,689.3 L614.1,690.4 L615.6,690.5 L616.1,690.1 L616.0,688.7 L616.6,686.6 L617.3,663.7 L618.6,659.8 L619.4,658.7 L620.4,658.2 L623.6,658.9 L624.2,658.7 L624.3,658.1 L623.7,656.5 L624.4,651.1 L624.9,650.3 L625.6,649.7 L626.4,649.5 L627.3,649.6 L628.3,650.2 L628.8,651.0 L631.0,657.0 L632.7,663.7 L633.6,682.0 L633.8,703.7 L634.9,708.0 L636.2,709.6 L638.1,709.7 L638.5,709.4 L638.6,708.3 L639.5,705.6 L639.9,684.0 L639.5,677.7 L637.4,673.8 L634.8,672.6 L634.2,671.9 L633.8,671.1 L632.4,652.2 L630.9,646.2 L628.0,621.4 L626.5,606.7 L625.8,598.1 L626.5,596.1 L626.0,595.7 L625.4,595.9 L625.1,597.9 L624.0,599.0 L622.7,599.1 L621.5,598.5 L612.4,585.9 L611.1,583.0 L611.1,581.5 L611.9,580.3 L611.9,556.3 L606.7,555.1 L606.0,554.5 L605.5,553.7 L604.0,549.1 L599.6,528.7 L598.8,518.7 L596.8,515.7 L593.9,515.2 L593.3,515.5 L593.2,515.9 L593.7,516.9 L593.8,517.6 L593.1,531.6 L592.6,532.6 L591.7,533.2 L590.6,533.4 L589.6,533.0 L586.0,529.4 L583.5,524.4 L582.8,510.9 L581.4,503.0 L580.8,502.2 L580.4,500.8 L580.0,500.6 L579.5,500.7 L579.1,502.2 L578.4,503.0 L577.1,512.4 L575.6,524.0 L574.4,538.4 L573.7,539.3 L572.4,539.8 L571.5,539.7 L570.4,539.2 L564.5,539.2 L564.0,539.7 L564.2,540.3 L565.4,540.6 L566.1,541.2 L566.7,542.6 L566.1,565.4 L565.3,566.5 L564.1,567.0 L557.1,567.0 L555.8,566.4 L555.0,565.0 L554.8,561.5 L555.0,560.5 L555.7,559.6 L554.5,538.7 L552.8,527.1 L548.5,511.6 L548.0,510.7 L546.9,510.3 L546.4,510.4 L545.8,511.5 L543.8,515.7 L541.5,526.0 L541.1,526.8 L540.5,527.4 L539.6,527.7 L538.7,527.7 L537.9,527.3 L537.1,526.2 L535.2,518.7 L533.5,503.7 L533.6,494.6 L532.6,491.5 L531.5,490.8 L531.0,490.7 L529.1,491.8 L525.5,494.7 L524.3,495.1 L523.4,494.9 L520.1,493.3 L519.1,492.1 L518.3,474.0 L516.8,459.5 L515.9,454.6 L516.1,453.3 L515.8,452.8 L515.2,452.8 L514.9,453.1 L514.9,454.4 L514.1,456.7 L513.7,473.9 L512.7,491.4 L512.4,492.3 L511.5,493.3 L510.2,493.6 L509.0,493.2 L508.2,492.1 L506.6,485.8 L505.9,474.1 L504.5,467.0 L501.8,455.0 L500.0,454.2 L499.6,454.6 L499.7,456.4 L498.8,459.6 L498.1,478.4 L496.5,496.3 L488.9,516.8 L487.6,517.6 L480.6,518.7 L473.5,516.0 L469.9,513.5 L469.3,512.6 L468.4,505.2 L468.4,486.7 L466.0,486.3 L465.2,485.9 L464.5,485.0 L463.7,481.9 L461.8,481.2 L461.3,481.3 L460.8,481.9 L459.6,485.1 L458.7,486.0 L457.9,486.3 L456.8,486.2 L455.9,485.5 L455.4,484.8 L453.8,478.5 L452.4,466.8 L451.7,455.3 L449.2,448.1 L448.8,440.1 L448.2,438.7 L447.8,438.5 L447.4,438.5 L447.1,438.9 L446.5,444.8 L444.5,474.2 L444.2,475.0 L442.3,477.6 L440.9,494.4 L439.4,502.9 L438.9,503.7 L438.0,504.4 L432.5,505.3 L431.3,504.8 L428.1,501.5 L427.6,500.2 L426.8,488.5 L425.4,458.2 L423.2,452.3 L422.5,439.8 L422.0,438.6 L421.2,438.6 L420.9,439.0 L421.0,440.2 L420.2,444.8 L419.7,488.6 L419.4,489.6 L416.0,495.0 L414.6,506.1 L413.9,523.7 L412.4,531.0 L412.4,575.5 L412.3,576.4 L411.4,577.4 L410.1,577.8 L408.0,577.7 L407.2,577.2 L406.6,576.5 L406.4,575.6 L405.7,564.0 L404.4,554.3 L403.2,553.1 L402.8,553.0 L402.4,553.2 L401.9,554.1 L401.3,554.7 L399.8,555.1 L396.2,554.3 L395.2,553.5 L394.7,552.3 L394.0,541.4 L393.4,540.5 L393.2,539.1 L392.9,538.7 L392.1,539.0 L391.9,540.3 L391.2,541.4 L390.5,553.9 L390.1,555.0 L389.2,555.7 L388.2,555.9 L384.4,555.9 L383.5,555.6 L382.8,555.0 L382.3,553.8 L381.6,545.9 L381.1,545.1 L380.6,543.6 L380.2,543.5 L379.7,543.7 L379.5,544.9 L378.8,545.8 L377.7,560.0ZM364.1,683.1 L364.9,684.5 L364.9,686.2 L365.2,686.6 L365.6,686.6 L366.0,686.1 L366.6,671.5 L364.1,671.5ZM344.3,709.7 L344.7,710.6 L345.1,710.7 L345.5,710.4 L345.3,708.9 L345.6,707.9 L346.3,683.8 L346.3,639.4 L342.9,639.4 L342.9,669.2ZM307.2,720.2 L307.5,720.9 L308.2,720.7 L308.4,719.1 L309.1,718.0 L310.6,676.4 L312.7,654.6 L311.6,636.9 L311.8,636.1 L312.3,635.4 L315.0,634.0 L313.7,633.6 L304.2,633.5 L304.2,683.8 L304.9,709.8 L306.3,717.8 L307.0,718.9ZM315.8,633.9 L317.2,634.5 L317.9,635.7 L320.2,654.2 L324.6,676.0 L326.1,698.2 L326.8,715.7 L328.3,724.8 L329.0,725.3 L329.5,724.8 L329.0,723.0 L329.7,716.5 L333.9,712.0 L334.6,698.4 L333.9,684.5 L333.7,683.6 L333.9,682.2 L333.6,681.8 L333.1,681.7 L330.5,683.0 L329.4,683.2 L328.2,682.7 L327.4,681.4 L325.9,669.6 L323.0,654.9 L320.8,637.2 L321.1,635.7 L321.8,635.0 L322.8,634.6 L322.9,633.9 L322.3,633.5 L316.4,633.5ZM124.9,455.3 L124.1,470.0 L123.5,470.9 L121.0,472.7 L119.6,479.0 L116.5,485.1 L113.2,489.1 L111.7,501.8 L108.8,506.5 L108.1,513.1 L108.1,521.8 L186.8,503.5 L191.9,501.0 L194.1,497.7 L194.8,497.2 L196.1,496.9 L197.3,497.4 L198.0,498.3 L198.1,499.2 L198.4,513.7 L199.6,535.4 L200.7,542.2 L200.4,543.9 L200.9,544.3 L201.5,544.0 L203.2,537.8 L203.6,537.1 L204.4,536.5 L205.3,536.3 L206.1,536.5 L209.5,538.1 L210.3,539.0 L212.7,551.3 L214.3,564.8 L214.0,566.3 L213.3,566.9 L212.3,567.4 L212.0,567.9 L212.3,568.3 L214.0,569.0 L214.7,570.2 L214.9,574.4 L216.4,586.5 L217.0,586.9 L220.9,586.2 L221.9,586.5 L222.5,587.2 L228.0,603.3 L229.5,618.2 L231.0,641.5 L233.0,652.2 L233.0,653.7 L233.7,654.0 L234.1,653.5 L233.8,652.2 L234.7,641.6 L235.2,621.3 L236.7,607.7 L237.3,606.5 L238.2,606.0 L243.6,605.8 L243.9,605.2 L243.4,604.2 L243.3,603.4 L244.1,601.3 L245.2,600.2 L246.8,600.1 L247.9,600.8 L250.6,604.5 L252.8,613.5 L254.9,623.2 L257.8,627.0 L260.1,633.9 L261.6,659.9 L263.6,662.8 L266.4,664.7 L267.3,665.8 L267.8,665.9 L269.7,665.2 L272.4,654.5 L274.6,641.4 L278.0,634.6 L279.3,633.8 L280.8,634.0 L281.8,634.9 L283.8,639.5 L283.8,658.7 L286.5,671.0 L291.3,675.8 L292.0,677.7 L292.8,677.7 L293.0,677.3 L293.0,676.1 L292.3,662.1 L290.9,649.1 L289.4,640.2 L289.4,630.3 L286.6,616.4 L278.6,605.7 L276.4,604.7 L275.9,604.7 L275.5,605.3 L276.1,606.5 L276.1,607.5 L274.0,614.6 L272.1,623.7 L271.6,624.4 L270.6,625.0 L269.5,625.0 L268.5,624.5 L267.8,623.5 L262.3,609.0 L259.3,600.0 L257.8,576.0 L233.1,562.3 L230.6,562.0 L229.4,561.0 L228.7,558.2 L221.4,536.5 L212.6,512.9 L211.8,499.3 L211.9,495.7 L211.2,482.8 L209.8,474.3 L205.7,455.1 L199.5,452.6 L198.5,451.8 L198.1,450.8 L197.3,444.7 L197.3,443.8 L197.1,443.4 L196.6,443.3 L192.3,444.0 L191.2,443.7 L190.5,443.1 L187.9,438.0 L187.0,430.2 L187.1,429.2 L186.7,428.7 L186.3,428.7 L186.0,429.1 L185.8,430.2 L185.1,432.0 L184.3,444.0 L183.5,445.0 L182.4,445.5 L181.1,445.2 L180.2,444.5 L179.9,443.7 L177.7,434.4 L175.5,429.1 L175.2,414.3 L173.4,407.3 L173.5,405.9 L173.3,405.5 L172.8,405.4 L172.3,405.8 L172.6,407.6 L170.5,414.4 L169.5,424.3 L169.1,456.4 L168.7,465.9 L168.0,467.2 L167.1,467.8 L166.0,467.8 L161.9,466.9 L160.7,465.9 L158.8,459.4 L157.7,449.8 L157.2,448.4 L156.8,448.2 L156.1,448.5 L156.1,450.1 L155.4,451.3 L153.4,457.9 L152.6,469.1 L151.8,470.2 L150.8,470.7 L146.6,470.6 L142.4,467.3 L141.8,466.7 L138.6,459.5 L137.9,448.6 L137.5,447.9 L137.1,447.9 L136.7,448.2 L134.9,455.7 L131.8,460.3 L131.0,461.0 L129.4,461.2 L128.6,460.9 L128.0,460.2 L127.0,455.6 L126.3,454.7 L126.1,453.3 L125.8,452.9 L125.3,452.9 L125.0,453.2 L125.1,454.5Z" fill="none" stroke="#BEBFBE" stroke-width="5.80" stroke-linecap="round" stroke-dasharray="0.01 3.0"/>
<polyline points="292.41,679.42 301.90,688.18" fill="none" stroke="#BEBFBE" stroke-width="1.0" stroke-linejoin="round" stroke-linecap="round" />
<circle cx="342.8" cy="643.2" r="2.9" fill="#BEBFBE"/>
<circle cx="282.0" cy="562.7" r="2.9" fill="#BEBFBE"/>
<circle cx="625.9" cy="596.6" r="2.9" fill="#BEBFBE"/>
<circle cx="579.9" cy="498.7" r="2.9" fill="#BEBFBE"/>
<polyline points="384.80,639.60 434.50,575.30" fill="none" stroke="#8C8C8A" stroke-width="1.2" stroke-linejoin="round" stroke-linecap="round" />
<path d="M204.9,446.2 L204.0,445.6 L203.2,445.4 L201.7,445.6 L200.5,446.5 L200.0,447.9 L200.0,448.9 L199.3,453.4 L199.0,482.3 L186.9,482.3 L185.4,482.7 L184.3,483.8 L184.0,484.9 L184.2,486.3 L184.6,487.0 L185.3,487.7 L184.7,489.6 L182.5,488.2 L179.6,480.9 L176.6,469.2 L175.2,454.6 L174.9,453.8 L175.5,453.1 L175.8,452.4 L175.9,451.7 L175.7,450.6 L174.8,449.4 L173.4,448.8 L171.9,449.0 L171.2,449.4 L170.5,450.2 L170.1,451.3 L170.2,452.4 L170.7,453.4 L171.3,454.0 L167.4,505.0 L165.7,501.3 L162.8,499.9 L160.6,498.4 L159.6,490.7 L159.0,489.8 L158.4,489.3 L157.3,488.9 L156.6,488.9 L155.2,489.5 L154.4,490.4 L154.1,491.1 L154.1,492.5 L153.3,495.5 L151.4,508.6 L150.4,505.0 L149.5,503.9 L148.6,503.3 L147.8,503.1 L146.3,503.3 L145.4,503.9 L144.6,505.2 L144.6,506.3 L144.8,507.1 L143.8,511.5 L141.6,508.6 L139.7,501.3 L138.2,494.3 L133.9,493.7 L132.5,494.3 L131.6,495.5 L128.5,508.6 L127.7,501.3 L127.4,501.0 L127.2,499.9 L126.8,499.2 L125.6,498.3 L124.2,498.1 L122.8,498.7 L122.0,499.6 L121.7,500.6 L121.8,502.0 L120.4,515.9 L119.0,521.8 L116.8,523.2 L115.4,522.6 L113.8,522.6 L112.8,523.1 L112.1,523.9 L110.9,515.5 L110.5,514.4 L109.5,513.4 L108.4,513.0 L106.9,513.2 L106.0,513.8 L105.4,514.8 L105.1,515.9 L105.4,517.0 L105.8,517.8 L105.5,544.8 L114.3,545.7 L115.8,545.3 L116.8,544.3 L117.2,542.8 L118.7,541.3 L123.0,539.6 L127.0,534.9 L129.2,532.0 L152.6,531.9 L153.3,531.6 L154.1,530.8 L154.6,529.8 L154.7,529.1 L156.2,527.6 L158.4,523.2 L159.2,524.2 L159.2,525.1 L159.5,526.1 L160.6,527.2 L161.7,527.6 L162.4,527.6 L165.0,526.9 L170.1,518.8 L171.5,508.6 L174.4,510.1 L176.6,513.0 L179.6,515.9 L180.3,532.0 L181.8,533.0 L182.8,533.4 L184.3,533.2 L185.3,532.6 L185.9,531.6 L186.1,530.5 L186.9,510.1 L189.1,504.2 L193.4,498.4 L193.7,499.5 L194.0,500.2 L195.2,501.1 L196.3,501.3 L200.7,501.3 L200.7,495.7 L206.2,495.6 L207.5,494.9 L208.3,493.6 L208.3,492.1 L207.8,491.1 L206.9,490.3 L205.6,489.9 L206.6,453.4 L205.7,448.7 L205.7,447.5ZM211.9,514.2 L211.1,514.9 L210.5,516.1 L206.1,519.6 L209.0,528.4 L213.4,538.6 L219.2,543.0 L222.1,551.8 L225.0,559.0 L229.4,564.4 L233.8,570.2 L237.4,571.6 L238.2,571.7 L245.5,571.0 L251.3,576.1 L252.8,583.4 L255.7,586.3 L260.5,595.0 L260.2,595.8 L260.1,596.9 L260.5,598.0 L260.9,598.6 L261.9,599.2 L263.0,599.4 L268.8,598.7 L271.8,599.4 L276.1,602.3 L277.6,609.6 L282.0,612.5 L284.4,618.4 L288.0,628.6 L288.5,629.3 L288.1,630.1 L288.1,631.2 L288.4,632.3 L288.9,632.9 L290.2,633.6 L291.7,633.6 L292.7,633.1 L293.5,632.2 L294.6,631.5 L300.8,632.2 L301.9,631.9 L302.8,631.1 L304.8,630.1 L307.8,634.8 L308.4,636.2 L309.6,637.1 L311.0,637.3 L312.4,636.8 L313.3,635.6 L313.5,634.8 L313.5,633.7 L312.7,632.4 L313.6,630.1 L318.0,641.8 L322.3,650.5 L324.6,655.8 L324.0,656.7 L323.8,657.8 L323.9,658.6 L324.4,659.6 L325.3,660.3 L326.3,660.7 L335.5,660.4 L337.3,648.4 L336.9,647.6 L336.7,646.5 L337.5,646.0 L338.1,645.0 L338.3,644.3 L338.3,643.2 L337.5,641.9 L336.6,641.2 L335.8,641.0 L326.7,641.0 L320.9,624.2 L318.0,618.4 L316.5,608.2 L315.9,600.5 L316.4,599.8 L316.7,598.7 L316.7,597.6 L316.2,596.6 L315.0,595.7 L313.9,595.5 L308.8,595.5 L307.4,596.1 L306.5,597.3 L306.3,598.8 L303.4,599.4 L301.9,603.8 L299.7,607.5 L296.8,608.9 L295.3,614.0 L292.4,615.5 L289.5,603.8 L288.0,589.2 L285.8,580.4 L282.9,573.1 L281.7,569.6 L282.5,568.7 L282.9,567.7 L282.8,566.5 L282.3,565.5 L281.4,564.8 L280.8,564.5 L278.8,564.5 L277.2,563.0 L276.8,561.8 L276.1,561.0 L274.7,560.4 L273.5,560.5 L272.5,561.0 L271.7,561.9 L270.0,563.0 L265.9,570.7 L261.5,560.5 L260.1,551.8 L259.8,551.4 L260.0,550.3 L259.7,548.8 L258.9,548.0 L257.9,547.5 L256.8,547.4 L255.7,547.8 L254.8,548.5 L254.5,549.2 L254.2,550.3 L254.5,551.4 L254.2,551.8 L249.1,549.6 L249.8,543.0 L248.4,536.4 L242.6,535.7 L241.8,528.4 L233.8,527.7 L232.7,527.9 L231.5,528.8 L231.0,529.8 L230.9,530.9 L231.3,532.0 L232.2,533.0 L231.6,543.0 L228.7,547.4 L225.8,540.1 L224.3,528.4 L222.8,518.9 L221.8,518.3 L221.0,517.3 L220.0,516.8 L218.8,516.7 L217.7,517.2 L217.7,516.3 L217.3,515.2 L216.9,514.6 L215.9,514.0 L215.2,513.8 L213.4,513.8ZM216.3,519.2 L216.3,519.6 L216.3,519.6 L216.2,519.3ZM450.9,526.7 L449.9,526.1 L449.2,525.9 L445.0,525.9 L444.2,526.1 L443.3,526.7 L442.5,528.0 L442.5,529.1 L442.8,530.2 L443.6,531.0 L444.8,531.6 L444.4,534.6 L441.5,541.9 L439.3,549.2 L437.1,560.9 L435.0,568.2 L433.5,578.4 L434.2,590.1 L435.9,591.2 L436.6,592.1 L437.2,592.6 L438.2,593.0 L439.4,592.9 L440.4,592.4 L441.1,591.5 L441.5,590.5 L441.5,589.6 L442.3,588.6 L444.4,581.3 L447.4,572.5 L450.3,569.6 L451.8,578.4 L452.9,580.0 L453.6,580.4 L454.7,580.6 L455.8,580.4 L456.4,580.0 L457.2,579.1 L460.0,574.2 L464.4,575.7 L467.3,581.6 L467.4,582.3 L467.9,583.3 L469.1,584.2 L470.6,584.4 L471.3,584.2 L472.3,583.6 L473.0,582.2 L473.9,581.5 L476.1,577.1 L480.1,578.6 L481.2,578.5 L483.4,577.9 L484.5,578.5 L485.6,579.7 L486.6,580.0 L487.8,580.0 L491.4,578.6 L495.8,564.0 L498.7,561.1 L498.9,561.5 L498.7,562.6 L498.9,563.7 L499.3,564.3 L500.2,565.1 L501.6,565.5 L506.7,565.5 L508.4,566.1 L509.3,566.7 L510.4,566.9 L511.1,566.8 L514.7,565.5 L516.9,561.1 L519.1,559.6 L522.8,561.1 L525.0,565.5 L528.6,571.3 L531.5,578.6 L533.0,579.7 L534.1,580.0 L535.6,579.8 L537.4,578.6 L539.6,571.3 L541.8,568.4 L547.6,568.4 L550.5,572.8 L553.7,580.8 L553.1,581.6 L552.7,582.6 L552.8,583.8 L553.3,584.8 L554.2,585.5 L555.2,585.9 L556.7,585.7 L557.7,585.0 L560.2,586.1 L561.0,586.7 L561.8,588.1 L562.8,588.8 L563.5,589.0 L564.6,588.9 L565.6,588.4 L566.4,587.5 L566.7,586.5 L569.0,584.6 L576.3,581.7 L579.2,574.4 L592.3,581.0 L598.2,581.7 L598.4,582.8 L598.8,583.5 L599.6,584.2 L600.7,584.6 L602.2,584.4 L603.4,583.5 L604.0,582.1 L603.9,580.9 L605.5,578.8 L609.9,584.6 L613.5,641.5 L615.7,642.2 L616.8,642.2 L617.9,641.9 L618.9,640.8 L619.3,639.7 L619.3,639.0 L618.7,637.6 L619.3,628.4 L621.5,625.5 L623.2,626.6 L623.9,627.5 L624.8,628.2 L625.9,628.4 L629.6,628.4 L631.0,638.6 L633.9,644.5 L635.0,645.1 L636.1,646.3 L637.6,646.6 L639.0,646.3 L639.9,645.5 L642.0,644.5 L643.4,638.6 L642.0,632.8 L639.0,628.4 L634.7,626.9 L631.8,621.1 L628.8,599.2 L625.9,598.5 L623.0,599.2 L622.3,605.0 L620.1,603.6 L616.4,597.7 L614.2,584.6 L613.5,554.5 L613.0,553.9 L613.0,552.9 L612.7,552.2 L611.9,551.4 L610.5,550.8 L609.4,550.9 L608.4,551.4 L607.6,552.2 L607.3,553.8 L606.2,555.9 L603.3,550.1 L601.1,538.4 L599.6,523.8 L598.2,513.6 L593.4,512.9 L592.7,513.1 L591.7,513.7 L591.0,515.0 L591.0,516.5 L591.5,517.6 L590.9,538.4 L587.2,536.2 L585.0,535.5 L584.3,518.0 L583.7,509.9 L584.7,509.5 L585.6,508.8 L586.0,508.1 L586.2,507.0 L585.8,505.5 L584.7,504.5 L583.3,504.1 L576.2,504.1 L574.8,504.7 L574.1,505.5 L573.7,506.6 L573.8,507.7 L574.3,508.8 L575.4,509.6 L574.8,512.1 L573.4,523.8 L572.2,537.5 L570.8,537.0 L564.2,537.0 L562.8,537.5 L561.9,538.7 L561.7,540.2 L562.1,541.3 L563.1,542.3 L564.3,542.7 L563.1,564.7 L557.6,565.0 L555.8,561.0 L553.6,553.7 L549.8,546.5 L545.9,536.9 L546.7,535.6 L546.8,534.4 L546.6,533.7 L546.0,532.7 L544.7,532.0 L543.6,531.9 L542.5,532.3 L541.6,533.0 L541.1,534.0 L541.1,535.2 L541.4,536.2 L542.2,537.1 L543.3,537.6 L541.8,550.9 L540.3,558.2 L537.4,558.2 L535.2,550.9 L533.7,539.2 L533.1,537.2 L533.8,536.6 L534.3,535.6 L534.4,534.4 L534.2,533.7 L533.6,532.7 L532.6,532.1 L531.9,531.9 L530.8,532.0 L530.1,532.3 L528.6,533.4 L526.4,536.3 L524.2,529.7 L522.0,529.0 L519.9,524.6 L519.8,524.2 L520.4,523.7 L521.1,522.8 L521.3,521.3 L521.1,520.6 L520.4,519.6 L519.1,518.9 L514.0,518.9 L512.7,519.6 L512.1,520.6 L511.8,521.7 L512.1,522.8 L512.7,523.7 L513.6,524.3 L510.4,539.2 L506.7,526.4 L507.6,525.6 L508.1,524.6 L508.1,523.5 L507.6,522.1 L506.4,521.2 L505.3,521.0 L499.0,521.0 L498.0,521.3 L497.1,522.1 L496.5,523.5 L496.6,524.6 L497.1,525.6 L498.3,526.5 L497.2,531.9 L494.3,533.4 L491.4,539.2 L489.2,555.3 L484.8,553.8 L481.9,550.9 L480.3,547.7 L481.1,546.5 L481.1,545.0 L480.6,544.0 L479.4,543.1 L477.9,542.9 L476.1,543.6 L473.9,549.4 L470.9,548.0 L468.8,539.2 L468.3,538.5 L468.7,537.4 L468.5,535.9 L467.6,534.7 L466.2,534.1 L464.7,534.3 L463.8,534.9 L463.3,535.5 L462.9,537.0 L462.2,537.7 L460.1,543.3 L459.0,542.3 L457.6,541.9 L456.5,542.1 L455.3,543.0 L454.8,544.0 L454.7,544.8 L454.8,545.6 L455.3,546.5 L453.9,549.2 L453.2,539.0 L450.7,530.9 L451.5,529.8 L451.7,528.7 L451.5,527.6ZM381.3,594.3 L380.2,593.8 L379.1,593.7 L378.0,594.1 L377.2,594.9 L376.7,595.9 L376.7,597.3 L376.1,598.0 L373.9,603.8 L373.7,607.2 L370.5,621.3 L367.6,633.0 L363.9,644.7 L361.0,637.4 L358.8,635.9 L356.6,630.1 L355.2,618.4 L353.8,605.0 L354.8,604.4 L355.4,603.4 L355.6,602.3 L355.4,601.2 L355.0,600.6 L354.1,599.8 L352.7,599.4 L350.4,599.4 L349.3,599.6 L348.3,600.3 L347.7,601.2 L347.5,602.3 L347.7,603.4 L348.3,604.4 L349.3,605.0 L348.6,618.4 L347.1,638.8 L345.7,646.1 L341.3,646.1 L340.2,646.4 L339.0,647.3 L338.5,648.3 L338.4,649.0 L338.5,649.8 L339.0,650.8 L339.9,651.5 L340.8,651.9 L341.3,669.2 L344.2,678.0 L346.3,679.0 L347.5,679.9 L349.0,680.1 L353.0,679.4 L359.6,670.7 L361.8,673.6 L367.2,675.0 L368.0,675.0 L369.0,674.7 L369.9,673.9 L370.3,673.2 L370.5,672.1 L370.2,670.9 L371.2,669.2 L373.4,663.4 L375.5,660.7 L379.0,660.6 L380.3,659.9 L380.9,658.9 L381.1,657.8 L380.9,656.7 L380.3,655.8 L379.6,655.3 L380.7,653.9 L383.8,640.8 L384.8,640.3 L387.4,635.9 L386.3,625.7 L385.9,624.4 L383.9,607.6 L382.9,601.8 L382.6,596.8 L382.0,595.2Z" fill="#61625E" fill-rule="evenodd"/>
<path d="M439.0,590.6 L439.3,588.9 L440.2,587.5 L445.3,571.6 L448.7,568.0 L449.4,567.5 L450.3,567.3 L451.2,567.5 L452.3,568.6 L453.9,577.4 L454.3,578.2 L454.7,578.3 L455.1,578.0 L458.4,572.6 L459.4,572.0 L460.5,572.0 L465.1,573.5 L466.1,574.1 L469.4,580.5 L469.7,581.8 L470.3,582.1 L470.7,581.9 L471.3,580.7 L472.0,580.0 L474.2,575.8 L475.5,574.9 L476.8,575.0 L480.4,576.3 L483.0,575.6 L483.9,575.6 L485.8,576.7 L486.9,577.8 L489.5,576.8 L493.6,563.1 L494.1,562.4 L497.6,559.1 L498.9,558.8 L500.3,559.5 L501.1,560.8 L501.0,562.6 L501.4,563.1 L507.2,563.2 L510.4,564.6 L513.1,563.6 L515.3,559.5 L518.0,557.6 L519.1,557.3 L523.6,559.0 L524.6,559.7 L527.0,564.3 L530.7,570.3 L533.3,577.0 L534.2,577.7 L534.7,577.7 L535.4,577.0 L537.5,570.3 L540.2,566.7 L541.5,566.1 L548.3,566.2 L549.4,566.9 L552.6,571.9 L555.9,580.2 L555.9,581.4 L555.1,582.8 L555.1,583.4 L555.7,583.6 L557.0,582.8 L558.5,582.9 L561.7,584.3 L562.8,585.2 L563.4,586.4 L563.7,586.7 L564.3,586.5 L565.1,584.9 L567.7,582.7 L574.5,579.9 L577.3,573.1 L578.1,572.4 L579.1,572.1 L580.2,572.3 L593.0,578.7 L599.1,579.6 L600.1,580.4 L600.5,581.9 L601.0,582.3 L601.7,581.9 L601.6,580.8 L601.8,579.9 L603.8,577.2 L604.9,576.5 L606.2,576.6 L607.3,577.4 L611.9,583.6 L611.2,555.4 L610.8,554.5 L610.7,553.4 L609.9,553.2 L609.6,553.5 L609.3,554.8 L607.9,557.5 L606.5,558.2 L605.2,558.0 L604.3,557.1 L601.1,550.9 L598.8,538.6 L597.4,524.1 L596.1,515.6 L593.8,515.2 L593.2,515.7 L593.8,517.6 L593.2,538.5 L592.9,539.5 L591.9,540.5 L590.3,540.6 L586.3,538.3 L583.9,537.5 L583.1,536.7 L582.7,535.6 L582.0,518.1 L581.4,509.8 L581.6,508.9 L582.1,508.2 L583.8,507.3 L583.8,506.7 L583.4,506.4 L576.6,506.4 L576.0,506.8 L576.1,507.4 L577.3,508.4 L577.7,509.7 L577.1,512.5 L575.6,524.0 L574.5,537.7 L574.3,538.6 L573.5,539.4 L572.4,539.8 L571.5,539.7 L570.4,539.2 L564.5,539.2 L564.0,539.7 L564.2,540.3 L565.3,540.6 L566.1,541.2 L566.5,541.9 L566.6,542.8 L565.4,565.0 L564.7,566.4 L563.5,566.9 L557.5,567.3 L556.6,567.0 L555.7,566.3 L553.6,561.7 L551.5,554.6 L547.8,547.6 L545.2,541.2 L544.0,551.3 L542.3,559.3 L541.6,560.1 L540.5,560.5 L537.1,560.5 L535.7,559.8 L535.2,558.8 L532.9,551.4 L531.5,539.7 L530.8,537.4 L531.0,536.3 L532.0,535.1 L532.1,534.6 L531.7,534.2 L531.2,534.3 L530.1,535.2 L528.1,537.8 L527.4,538.4 L526.1,538.6 L524.8,538.0 L524.2,537.0 L522.4,531.5 L520.9,531.0 L520.2,530.4 L517.7,525.4 L517.5,524.3 L517.6,523.5 L519.0,521.7 L518.5,521.1 L514.7,521.1 L514.2,521.4 L514.3,522.0 L515.1,522.6 L515.7,523.4 L515.8,524.8 L512.6,539.9 L511.8,541.0 L510.6,541.5 L509.3,541.2 L508.3,540.3 L506.0,532.5 L504.4,526.3 L504.8,525.1 L505.8,524.1 L505.8,523.6 L505.2,523.2 L499.5,523.2 L498.9,523.5 L498.9,524.1 L500.2,525.2 L500.6,526.5 L499.4,532.6 L498.7,533.7 L496.0,535.1 L493.6,539.9 L491.4,555.8 L490.8,556.9 L489.4,557.6 L488.5,557.4 L483.7,555.8 L480.1,552.3 L478.1,548.2 L478.2,547.0 L478.8,545.8 L478.5,545.2 L477.7,545.5 L475.9,550.4 L474.8,551.5 L473.9,551.7 L473.0,551.6 L469.4,549.6 L468.8,548.7 L466.6,540.1 L466.1,539.0 L466.1,538.0 L466.4,536.9 L465.9,536.4 L465.4,536.6 L465.0,538.0 L464.2,539.0 L462.2,544.1 L461.8,544.9 L460.8,545.5 L459.9,545.6 L458.8,545.3 L457.8,544.3 L457.2,544.3 L457.0,544.9 L457.5,546.1 L457.5,546.9 L455.9,550.4 L455.3,551.1 L454.3,551.5 L453.4,551.4 L452.6,551.1 L452.0,550.4 L451.7,549.6 L450.9,539.4 L448.5,531.3 L448.6,530.1 L449.3,529.0 L449.4,528.6 L448.9,528.2 L445.2,528.2 L444.8,528.5 L444.8,529.0 L446.4,530.0 L447.0,531.1 L446.7,535.0 L443.7,542.7 L441.6,549.7 L439.4,561.3 L437.2,568.7 L435.8,578.5 L436.5,588.8 L437.6,589.6 L438.4,590.6ZM544.1,535.5 L544.5,534.6 L544.2,534.3 L543.8,534.2 L543.4,534.5 L543.4,535.0ZM612.3,587.2 L615.7,639.7 L616.6,639.9 L617.0,639.4 L616.4,637.6 L617.2,627.6 L620.0,623.7 L620.8,623.3 L622.0,623.2 L624.7,624.8 L625.7,626.0 L630.0,626.1 L630.8,626.5 L631.4,627.1 L631.8,628.1 L633.2,637.9 L635.7,642.8 L636.6,643.4 L637.2,644.2 L637.8,644.3 L638.7,643.5 L640.0,642.9 L641.1,638.6 L639.8,633.7 L637.6,630.3 L633.7,629.0 L633.0,628.5 L629.6,621.9 L626.7,601.0 L625.9,600.8 L625.1,601.0 L624.4,605.8 L624.0,606.5 L623.3,607.1 L622.5,607.3 L621.4,607.2 L618.4,605.2 L614.3,598.6ZM346.1,676.3 L348.7,677.8 L351.7,677.3 L357.7,669.3 L359.0,668.4 L360.1,668.4 L360.9,668.8 L363.1,671.5 L367.4,672.7 L367.9,672.7 L368.2,672.1 L367.9,671.0 L368.0,670.1 L369.2,668.2 L371.6,662.0 L374.3,658.7 L375.2,658.4 L378.3,658.4 L378.8,658.1 L378.7,657.5 L377.5,656.2 L377.4,654.7 L378.6,652.9 L381.7,640.0 L382.3,639.1 L383.2,638.5 L385.1,635.4 L381.6,607.9 L380.6,602.2 L380.3,597.1 L379.7,596.1 L379.3,596.1 L378.9,596.4 L378.9,598.0 L378.0,599.2 L376.1,604.3 L376.0,607.6 L372.7,621.9 L369.8,633.7 L366.1,645.6 L365.6,646.3 L364.6,646.9 L363.0,646.8 L362.0,645.9 L359.1,638.9 L357.4,637.7 L356.8,636.9 L354.5,630.9 L352.9,618.7 L351.6,605.4 L350.9,618.6 L349.4,639.0 L347.9,646.6 L347.3,647.8 L346.4,648.3 L341.2,648.4 L340.7,649.0 L340.9,649.5 L342.5,650.4 L343.0,651.6 L343.6,668.8ZM351.6,604.7 L352.1,603.5 L353.2,602.6 L353.2,602.0 L352.8,601.7 L350.1,601.8 L349.8,602.2 L349.8,602.6 L351.1,603.6ZM212.8,516.6 L212.1,517.7 L208.7,520.4 L211.1,527.6 L215.2,537.1 L220.6,541.1 L221.2,541.8 L224.3,551.0 L227.0,557.9 L235.2,568.3 L238.1,569.4 L245.5,568.7 L246.8,569.1 L253.4,575.0 L254.9,582.2 L257.6,585.0 L262.5,593.9 L262.8,595.0 L262.4,596.4 L262.6,596.9 L263.1,597.1 L269.0,596.4 L272.3,597.2 L277.9,600.9 L278.4,601.9 L279.7,608.3 L283.4,610.8 L284.1,611.7 L290.6,628.6 L290.7,629.5 L290.4,630.8 L290.6,631.3 L291.2,631.3 L292.1,630.3 L294.0,629.3 L300.5,629.9 L301.5,629.2 L303.8,628.0 L305.3,627.8 L306.6,628.7 L309.7,633.6 L310.1,634.8 L310.7,635.1 L311.1,634.8 L311.2,634.4 L310.5,633.2 L310.4,631.9 L311.7,628.8 L312.3,628.2 L313.4,627.8 L314.3,627.9 L315.1,628.3 L315.7,629.3 L320.1,640.8 L324.4,649.5 L326.7,654.9 L326.9,656.3 L326.2,657.6 L326.2,658.1 L326.8,658.4 L333.5,658.2 L335.0,648.8 L334.5,647.0 L334.4,646.2 L334.8,645.2 L335.9,644.3 L336.0,643.8 L335.4,643.3 L326.5,643.3 L325.4,642.9 L324.6,642.0 L318.7,625.1 L315.7,619.0 L314.2,608.5 L313.6,600.7 L313.7,599.6 L314.4,598.5 L314.3,598.0 L313.8,597.8 L308.8,597.9 L308.6,598.3 L308.5,599.5 L308.0,600.4 L307.0,601.0 L305.1,601.4 L304.0,604.8 L301.6,608.8 L300.9,609.4 L298.7,610.5 L297.5,614.6 L297.1,615.5 L296.4,616.1 L293.0,617.7 L292.1,617.7 L291.1,617.3 L290.2,616.0 L287.3,604.4 L285.8,589.6 L283.6,581.1 L280.8,574.0 L279.5,570.1 L279.5,569.0 L280.5,567.5 L280.5,566.9 L280.1,566.7 L278.4,566.8 L277.6,566.5 L275.3,564.4 L274.7,562.9 L274.1,562.7 L273.1,563.8 L271.7,564.6 L267.5,572.3 L266.8,572.8 L265.9,573.0 L265.0,572.9 L264.3,572.4 L263.8,571.6 L259.3,561.2 L257.9,552.6 L257.6,551.8 L257.7,550.0 L257.1,549.7 L256.7,549.9 L256.8,551.6 L256.5,552.5 L255.7,553.5 L254.4,554.0 L253.3,553.9 L248.2,551.7 L247.5,551.2 L247.0,550.4 L246.8,549.5 L247.5,543.1 L246.5,538.5 L242.0,537.9 L240.8,537.1 L240.3,536.1 L239.7,530.5 L233.8,530.0 L233.3,530.3 L233.3,530.8 L234.2,531.9 L234.5,532.9 L233.8,543.6 L230.1,549.1 L228.9,549.7 L227.4,549.3 L226.6,548.2 L223.5,540.5 L220.7,520.3 L219.6,519.1 L219.0,519.0 L218.6,519.2 L218.3,520.7 L217.6,521.5 L216.3,521.9 L215.3,521.7 L214.3,520.8 L213.9,519.1 L214.3,517.9 L215.4,517.1 L215.4,516.5 L214.9,516.1 L213.4,516.1ZM107.4,515.8 L108.1,517.8 L107.8,542.7 L114.6,543.3 L115.3,541.5 L117.1,539.7 L117.9,539.2 L121.6,537.7 L127.5,530.4 L128.5,529.8 L152.0,529.6 L152.4,529.3 L152.8,527.8 L154.3,526.2 L156.6,521.8 L157.3,521.2 L158.1,520.9 L159.2,521.1 L160.2,521.7 L161.3,523.3 L161.7,525.2 L162.1,525.3 L163.5,524.9 L167.9,518.0 L169.3,508.1 L170.0,506.9 L171.2,506.3 L172.3,506.5 L175.8,508.2 L178.4,511.5 L181.6,514.8 L181.9,515.8 L182.5,530.7 L183.1,531.1 L183.6,531.0 L183.8,530.2 L184.6,509.7 L187.1,503.0 L191.6,497.0 L192.3,496.4 L193.4,496.1 L194.3,496.3 L195.4,497.2 L196.1,498.9 L198.4,499.0 L198.5,495.3 L199.3,494.0 L200.5,493.4 L205.5,493.4 L206.0,493.0 L205.8,492.4 L204.6,492.0 L203.9,491.5 L203.3,490.1 L204.3,453.6 L203.3,447.9 L202.8,447.7 L202.3,448.1 L202.3,449.3 L201.6,453.6 L201.3,482.4 L201.2,483.2 L200.3,484.3 L199.3,484.6 L186.6,484.7 L186.3,485.4 L187.4,486.8 L187.5,488.1 L186.7,490.7 L186.1,491.4 L185.3,491.8 L184.4,491.9 L183.6,491.7 L180.7,489.6 L177.4,481.7 L174.4,469.8 L173.3,458.6 L169.7,505.1 L169.4,506.2 L168.8,506.8 L167.6,507.3 L166.1,506.8 L165.5,506.2 L164.0,503.0 L161.5,501.8 L158.7,499.7 L158.3,498.7 L157.5,492.8 L157.5,491.7 L156.9,491.2 L156.4,491.7 L156.4,492.9 L155.5,496.0 L153.6,509.2 L153.1,510.1 L152.4,510.7 L151.1,510.9 L149.7,510.2 L149.2,509.4 L148.3,506.3 L147.8,505.5 L147.3,505.4 L146.9,505.8 L147.1,507.4 L145.8,512.7 L145.2,513.3 L144.4,513.8 L143.5,513.8 L142.4,513.4 L139.5,509.4 L137.5,501.9 L136.3,496.3 L134.2,496.0 L133.8,496.3 L133.5,497.1 L130.6,509.4 L130.2,510.2 L129.4,510.7 L128.5,510.9 L127.6,510.8 L126.5,509.7 L126.2,508.8 L125.5,502.3 L125.0,500.6 L124.5,500.4 L124.0,500.7 L124.1,502.3 L122.7,516.1 L121.2,522.5 L120.4,523.5 L117.4,525.4 L116.3,525.5 L114.5,524.8 L112.8,526.1 L111.9,526.2 L110.9,525.9 L110.2,525.3 L109.9,524.5 L108.5,515.5 L108.1,515.3 L107.7,515.4ZM173.0,452.5 L173.6,451.7 L173.4,451.2 L173.0,451.1 L172.6,451.2 L172.4,451.7Z" fill="none" stroke="#61625E" stroke-width="5.80" stroke-linecap="round" stroke-dasharray="0.01 3.0"/>
<pattern id="stripes" width="7" height="8" patternUnits="userSpaceOnUse"><rect width="7" height="8" fill="#8E908D"/><rect x="0" width="1.1" height="8" fill="#61625E"/><rect x="2.6" width="1.4" height="8" fill="#A6A8A6"/><rect x="4.6" width="0.9" height="8" fill="#6d6e6a"/></pattern>
<path d="M176.3,434.4 L174.1,431.5 L170.4,432.2 L168.7,438.8 L167.2,460.7 L166.8,495.7 L183.6,495.7 L183.1,488.8 L184.3,489.4 L183.9,495.7 L186.5,495.7 L186.5,483.5 L186.8,482.6 L195.1,482.6 L195.8,496.3 L204.6,503.6 L206.1,519.6 L209.0,528.4 L213.4,538.6 L215.6,518.2 L214.8,512.3 L213.1,484.7 L212.8,476.8 L212.3,474.4 L211.9,468.5 L211.2,468.5 L210.6,465.1 L208.4,456.3 L206.6,453.4 L206.4,468.5 L200.7,468.5 L200.7,453.1 L196.4,453.1 L195.3,451.2 L192.3,451.2 L191.6,452.9 L187.6,454.6 L186.1,459.0 L183.9,476.5 L182.5,484.1 L180.7,476.8 L178.5,453.4ZM323.8,653.4 L326.7,647.6 L323.8,638.8 L316.5,615.5 L311.4,616.2 L310.7,637.4 L313.6,630.1 L318.0,641.8ZM348.6,680.1 L353.0,679.4 L359.6,670.7 L361.8,673.6 L367.6,675.0 L371.2,669.2 L373.4,663.4 L380.7,653.9 L380.7,638.5 L367.9,638.5 L367.6,633.0 L365.9,638.5 L361.5,638.5 L361.0,637.4 L358.8,635.9 L356.6,630.1 L355.2,618.4 L353.0,603.8 L349.8,603.8 L347.1,638.8 L345.7,645.8 L340.6,645.8 L340.6,647.2 L338.4,650.5 L338.4,660.7 L341.0,660.7 L341.3,669.2 L344.2,678.0ZM511.8,478.2 L511.4,530.7 L518.8,530.7 L518.4,478.2 L515.0,475.6ZM590.9,539.1 L584.7,535.5 L584.0,518.0 L583.0,504.8 L576.9,504.8 L574.8,512.9 L573.4,524.5 L571.9,542.0 L570.4,537.7 L564.6,537.7 L564.6,573.4 L592.3,573.4 L591.9,528.2ZM610.1,551.5 L607.7,553.7 L606.2,556.6 L602.5,550.1 L600.4,538.4 L598.9,523.8 L598.9,580.7 L613.6,580.7 L613.1,555.2ZM625.9,599.2 L623.3,599.9 L622.3,625.5 L631.0,628.4 L630.0,610.9 L628.5,599.9Z" fill="url(#stripes)" fill-rule="evenodd"/>
<polygon points="186.50,495.73 186.50,482.59 198.18,482.59 198.18,495.73" fill="#61625E" stroke="#61625E" stroke-width="0.6" stroke-linejoin="round" />
<polygon points="198.91,495.73 199.34,453.39 200.36,446.82 202.85,445.36 205.47,447.55 206.64,453.39 206.20,467.99 205.47,495.73" fill="#61625E" stroke="#61625E" stroke-width="0.6" stroke-linejoin="round" />
<polygon points="188.54,483.14 195.11,483.14 195.84,496.28 188.54,499.20" fill="#61625E" stroke="#61625E" stroke-width="0.6" stroke-linejoin="round" />
<polygon points="169.71,495.73 170.44,476.75 172.19,453.39 173.36,451.20 175.11,457.77 176.72,470.91 178.91,482.59 181.39,491.35 182.12,495.73" fill="#61625E" stroke="#61625E" stroke-width="0.6" stroke-linejoin="round" />
<polygon points="563.87,561.75 564.01,555.91 564.60,551.82 567.23,550.36 570.15,552.26 570.44,561.75" fill="#61625E" stroke="#61625E" stroke-width="0.6" stroke-linejoin="round" />
<polygon points="592.04,573.43 592.34,523.80 593.80,514.60 597.45,514.60 598.61,523.80 598.18,552.99 600.36,573.43" fill="#61625E" stroke="#61625E" stroke-width="0.6" stroke-linejoin="round" />
<polygon points="361.75,648.76 367.59,645.84 373.43,648.76 374.89,657.52 370.51,667.74 366.13,672.85 362.48,669.20" fill="#61625E" stroke="#61625E" stroke-width="0.6" stroke-linejoin="round" />
<polyline points="169.27,495.73 170.15,476.75 171.90,451.93 173.36,449.74 175.55,457.04 177.15,470.91 179.20,482.59 181.82,491.35" fill="none" stroke="#61625E" stroke-width="2.2" stroke-linejoin="round" stroke-linecap="round" />
<polyline points="574.09,561.75 575.11,541.31 576.28,523.80 577.74,513.58 579.93,505.99" fill="none" stroke="#61625E" stroke-width="2.4" stroke-linejoin="round" stroke-linecap="round" />
<polyline points="580.66,505.99 581.53,523.80 582.99,541.31 584.45,561.75 586.50,574.89" fill="none" stroke="#61625E" stroke-width="2.4" stroke-linejoin="round" stroke-linecap="round" />
<polyline points="350.66,660.73 350.95,618.39 351.53,602.34" fill="none" stroke="#61625E" stroke-width="3.0" stroke-linejoin="round" stroke-linecap="round" />
<polyline points="341.31,660.73 342.04,647.59" fill="none" stroke="#61625E" stroke-width="3.0" stroke-linejoin="round" stroke-linecap="round" />
<polyline points="345.69,660.73 346.42,647.59" fill="none" stroke="#61625E" stroke-width="3.0" stroke-linejoin="round" stroke-linecap="round" />
<polyline points="359.56,660.73 360.00,638.83" fill="none" stroke="#61625E" stroke-width="3.0" stroke-linejoin="round" stroke-linecap="round" />
<polyline points="515.18,530.73 515.18,505.91" fill="none" stroke="#61625E" stroke-width="2.5" stroke-linejoin="round" stroke-linecap="round" />
<polyline points="202.55,439.23 202.55,446.09" fill="none" stroke="#7d7e7b" stroke-width="1.5" stroke-linejoin="round" stroke-linecap="round" />
<polyline points="351.53,581.90 351.53,603.80" fill="none" stroke="#7d7e7b" stroke-width="1.5" stroke-linejoin="round" stroke-linecap="round" />
<polyline points="349.34,669.20 349.34,740.73" fill="none" stroke="#7d7e7b" stroke-width="1.5" stroke-linejoin="round" stroke-linecap="round" />
<polyline points="447.08,511.02 447.08,530.73" fill="none" stroke="#7d7e7b" stroke-width="1.5" stroke-linejoin="round" stroke-linecap="round" />
<polyline points="567.23,539.12 567.23,550.07" fill="none" stroke="#7d7e7b" stroke-width="1.5" stroke-linejoin="round" stroke-linecap="round" />
<polyline points="610.15,552.99 610.15,573.43" fill="none" stroke="#7d7e7b" stroke-width="1.5" stroke-linejoin="round" stroke-linecap="round" />
<polyline points="351.46,581.39 351.46,613.07" fill="none" stroke="#7d7e7b" stroke-width="1.5" stroke-linejoin="round" stroke-linecap="round" />
<polyline points="349.30,734.00 349.30,746.00" fill="none" stroke="#7d7e7b" stroke-width="1.5" stroke-linejoin="round" stroke-linecap="round" />
<circle cx="202.6" cy="439.2" r="2.85" fill="#9a9c99" fill-opacity="0.85" stroke="#6c6d6a" stroke-width="0.7"/>
<circle cx="182.8" cy="538.5" r="2.85" fill="#9a9c99" fill-opacity="0.85" stroke="#6c6d6a" stroke-width="0.7"/>
<circle cx="239.6" cy="525.0" r="2.85" fill="#9a9c99" fill-opacity="0.85" stroke="#6c6d6a" stroke-width="0.7"/>
<circle cx="257.1" cy="548.8" r="2.85" fill="#9a9c99" fill-opacity="0.85" stroke="#6c6d6a" stroke-width="0.7"/>
<circle cx="263.0" cy="563.1" r="2.85" fill="#9a9c99" fill-opacity="0.85" stroke="#6c6d6a" stroke-width="0.7"/>
<circle cx="280.5" cy="567.1" r="2.85" fill="#9a9c99" fill-opacity="0.85" stroke="#6c6d6a" stroke-width="0.7"/>
<circle cx="309.2" cy="595.5" r="2.85" fill="#9a9c99" fill-opacity="0.85" stroke="#6c6d6a" stroke-width="0.7"/>
<circle cx="313.9" cy="595.5" r="2.85" fill="#9a9c99" fill-opacity="0.85" stroke="#6c6d6a" stroke-width="0.7"/>
<circle cx="290.9" cy="634.7" r="2.85" fill="#9a9c99" fill-opacity="0.85" stroke="#6c6d6a" stroke-width="0.7"/>
<circle cx="351.5" cy="581.9" r="2.85" fill="#9a9c99" fill-opacity="0.85" stroke="#6c6d6a" stroke-width="0.7"/>
<circle cx="351.5" cy="587.0" r="2.85" fill="#9a9c99" fill-opacity="0.85" stroke="#6c6d6a" stroke-width="0.7"/>
<circle cx="351.5" cy="591.4" r="2.85" fill="#9a9c99" fill-opacity="0.85" stroke="#6c6d6a" stroke-width="0.7"/>
<circle cx="351.5" cy="600.1" r="2.85" fill="#9a9c99" fill-opacity="0.85" stroke="#6c6d6a" stroke-width="0.7"/>
<circle cx="349.3" cy="686.7" r="2.85" fill="#9a9c99" fill-opacity="0.85" stroke="#6c6d6a" stroke-width="0.7"/>
<circle cx="349.3" cy="715.2" r="2.85" fill="#9a9c99" fill-opacity="0.85" stroke="#6c6d6a" stroke-width="0.7"/>
<circle cx="349.3" cy="724.7" r="2.85" fill="#9a9c99" fill-opacity="0.85" stroke="#6c6d6a" stroke-width="0.7"/>
<circle cx="375.2" cy="662.6" r="2.85" fill="#9a9c99" fill-opacity="0.85" stroke="#6c6d6a" stroke-width="0.7"/>
<circle cx="447.1" cy="515.4" r="2.85" fill="#9a9c99" fill-opacity="0.85" stroke="#6c6d6a" stroke-width="0.7"/>
<circle cx="447.1" cy="525.6" r="2.85" fill="#9a9c99" fill-opacity="0.85" stroke="#6c6d6a" stroke-width="0.7"/>
<circle cx="379.5" cy="594.2" r="2.85" fill="#9a9c99" fill-opacity="0.85" stroke="#6c6d6a" stroke-width="0.7"/>
<circle cx="447.1" cy="525.1" r="2.85" fill="#9a9c99" fill-opacity="0.85" stroke="#6c6d6a" stroke-width="0.7"/>
<circle cx="465.6" cy="534.3" r="2.85" fill="#9a9c99" fill-opacity="0.85" stroke="#6c6d6a" stroke-width="0.7"/>
<circle cx="438.6" cy="592.5" r="2.85" fill="#9a9c99" fill-opacity="0.85" stroke="#6c6d6a" stroke-width="0.7"/>
<circle cx="465.8" cy="533.4" r="2.85" fill="#9a9c99" fill-opacity="0.85" stroke="#6c6d6a" stroke-width="0.7"/>
<circle cx="478.2" cy="542.4" r="2.85" fill="#9a9c99" fill-opacity="0.85" stroke="#6c6d6a" stroke-width="0.7"/>
<circle cx="544.4" cy="529.3" r="2.85" fill="#9a9c99" fill-opacity="0.85" stroke="#6c6d6a" stroke-width="0.7"/>
<circle cx="567.2" cy="539.1" r="2.85" fill="#9a9c99" fill-opacity="0.85" stroke="#6c6d6a" stroke-width="0.7"/>
<circle cx="567.2" cy="543.5" r="2.85" fill="#9a9c99" fill-opacity="0.85" stroke="#6c6d6a" stroke-width="0.7"/>
<circle cx="579.9" cy="505.1" r="2.85" fill="#9a9c99" fill-opacity="0.85" stroke="#6c6d6a" stroke-width="0.7"/>
<circle cx="610.1" cy="553.0" r="2.85" fill="#9a9c99" fill-opacity="0.85" stroke="#6c6d6a" stroke-width="0.7"/>
<circle cx="610.1" cy="558.1" r="2.85" fill="#9a9c99" fill-opacity="0.85" stroke="#6c6d6a" stroke-width="0.7"/>
<circle cx="610.1" cy="563.2" r="2.85" fill="#9a9c99" fill-opacity="0.85" stroke="#6c6d6a" stroke-width="0.7"/>
<circle cx="610.1" cy="567.9" r="2.85" fill="#9a9c99" fill-opacity="0.85" stroke="#6c6d6a" stroke-width="0.7"/>
<circle cx="351.5" cy="582.0" r="2.85" fill="#9a9c99" fill-opacity="0.85" stroke="#6c6d6a" stroke-width="0.7"/>
<circle cx="351.5" cy="586.9" r="2.85" fill="#9a9c99" fill-opacity="0.85" stroke="#6c6d6a" stroke-width="0.7"/>
<circle cx="351.5" cy="591.8" r="2.85" fill="#9a9c99" fill-opacity="0.85" stroke="#6c6d6a" stroke-width="0.7"/>
<circle cx="351.5" cy="600.8" r="2.85" fill="#9a9c99" fill-opacity="0.85" stroke="#6c6d6a" stroke-width="0.7"/>
<circle cx="384.8" cy="639.6" r="2.85" fill="#9a9c99" fill-opacity="0.85" stroke="#6c6d6a" stroke-width="0.7"/>
<circle cx="438.8" cy="591.4" r="2.85" fill="#9a9c99" fill-opacity="0.85" stroke="#6c6d6a" stroke-width="0.7"/>
<circle cx="349.3" cy="743.3" r="2.85" fill="#9a9c99" fill-opacity="0.85" stroke="#6c6d6a" stroke-width="0.7"/>
<circle cx="274.4" cy="562.7" r="3.0" fill="#61625E"/>
<circle cx="349.3" cy="691.1" r="3.0" fill="#61625E"/>
<circle cx="349.3" cy="734.2" r="3.0" fill="#61625E"/>
<circle cx="447.1" cy="511.0" r="3.0" fill="#61625E"/>
<circle cx="447.1" cy="520.5" r="3.0" fill="#61625E"/>
<circle cx="567.2" cy="553.4" r="3.0" fill="#61625E"/>
<polyline points="502.30,486.00 502.30,564.00" fill="none" stroke="#BE2CFF" stroke-width="1.6" stroke-linejoin="round" stroke-linecap="round" />
<polyline points="256.90,587.80 413.00,619.80 499.80,512.00" fill="none" stroke="#BE2CFF" stroke-width="1.7" stroke-linejoin="round" stroke-linecap="round" />
<polyline points="256.90,597.60 413.20,552.60 501.70,497.50" fill="none" stroke="#ECA32C" stroke-width="1.7" stroke-linejoin="round" stroke-linecap="round" />
<polyline points="501.90,408.00 501.90,534.70" fill="none" stroke="#ECA32C" stroke-width="1.7" stroke-linejoin="round" stroke-linecap="round" />
<circle cx="256.9" cy="587.8" r="3.2" fill="#BE2CFF"/>
<circle cx="413.0" cy="619.8" r="3.2" fill="#BE2CFF"/>
<circle cx="256.9" cy="597.6" r="3.2" fill="#ECA32C"/>
<circle cx="413.2" cy="552.6" r="3.2" fill="#ECA32C"/>
<circle cx="502.3" cy="526.0" r="3.3" fill="#BE2CFF"/>
<circle cx="502.3" cy="530.0" r="3.3" fill="#BE2CFF"/>
<circle cx="502.3" cy="534.0" r="3.3" fill="#BE2CFF"/>
<circle cx="502.3" cy="538.0" r="3.3" fill="#BE2CFF"/>
<circle cx="502.3" cy="542.0" r="3.3" fill="#BE2CFF"/>
<circle cx="502.3" cy="546.0" r="3.3" fill="#BE2CFF"/>
<circle cx="502.3" cy="550.0" r="3.3" fill="#BE2CFF"/>
<circle cx="502.3" cy="553.0" r="3.3" fill="#BE2CFF"/>
<circle cx="502.3" cy="564.4" r="3.3" fill="#BE2CFF"/>
<circle cx="501.9" cy="407.6" r="3.5" fill="#ECA32C"/>
<circle cx="501.9" cy="419.0" r="3.5" fill="#ECA32C"/>
<circle cx="501.9" cy="437.3" r="3.5" fill="#ECA32C"/>
<circle cx="501.9" cy="446.1" r="3.5" fill="#ECA32C"/>
<circle cx="501.9" cy="453.4" r="3.5" fill="#ECA32C"/>
<circle cx="501.9" cy="456.5" r="3.5" fill="#ECA32C"/>
<circle cx="501.9" cy="459.5" r="3.5" fill="#ECA32C"/>
<circle cx="501.9" cy="462.5" r="3.5" fill="#ECA32C"/>
<circle cx="501.9" cy="465.5" r="3.5" fill="#ECA32C"/>
<circle cx="501.9" cy="468.5" r="3.5" fill="#ECA32C"/>
<circle cx="501.9" cy="471.5" r="3.5" fill="#ECA32C"/>
<circle cx="501.9" cy="474.5" r="3.5" fill="#ECA32C"/>
<circle cx="501.9" cy="477.5" r="3.5" fill="#ECA32C"/>
<circle cx="501.9" cy="480.5" r="3.5" fill="#ECA32C"/>
<circle cx="501.9" cy="483.5" r="3.5" fill="#ECA32C"/>
<circle cx="501.9" cy="486.0" r="3.5" fill="#ECA32C"/>
<circle cx="501.9" cy="491.3" r="3.5" fill="#ECA32C"/>
<circle cx="501.9" cy="505.2" r="3.5" fill="#ECA32C"/>
<circle cx="501.9" cy="516.3" r="3.5" fill="#ECA32C"/>
<circle cx="501.9" cy="522.4" r="3.5" fill="#ECA32C"/>
<circle cx="501.9" cy="534.5" r="3.5" fill="#ECA32C"/>
</g>
<rect x="481.9" y="401.6" width="37.4" height="185.3" fill="none" stroke="#000" stroke-width="1.3"/>
<text x="524.40" y="416.20" font-size="13.50" fill="#000" text-anchor="start" font-weight="normal" >HaDS</text>
<text x="524.40" y="430.60" font-size="13.50" fill="#000" text-anchor="start" font-weight="normal" >summer</text>
<text x="524.40" y="445.00" font-size="13.50" fill="#000" text-anchor="start" font-weight="normal" >2021</text>
<text x="251.60" y="440.60" font-size="13.50" fill="#000" text-anchor="start" font-weight="normal" >Deeply</text>
<text x="251.60" y="455.00" font-size="13.50" fill="#000" text-anchor="start" font-weight="normal" >sequenced</text>
<text x="251.60" y="469.40" font-size="13.50" fill="#000" text-anchor="start" font-weight="normal" >metagenomes</text>
<text x="251.60" y="483.80" font-size="13.50" fill="#000" text-anchor="start" font-weight="normal" >fall 2020</text>
<text x="402.60" y="710.40" font-size="13.50" fill="#000" text-anchor="start" font-weight="normal" >Deeply</text>
<text x="402.60" y="724.80" font-size="13.50" fill="#000" text-anchor="start" font-weight="normal" >sequenced</text>
<text x="402.60" y="739.20" font-size="13.50" fill="#000" text-anchor="start" font-weight="normal" >metagenomes</text>
<text x="402.60" y="753.60" font-size="13.50" fill="#000" text-anchor="start" font-weight="normal" >spring 2021</text>
<line x1="256.0" y1="486.8" x2="256.0" y2="569.5" stroke="#000" stroke-width="1.9"/>
<polygon points="251.2,569.0 260.8,569.0 256.0,576.1" fill="#000"/>
<line x1="414.8" y1="698" x2="414.8" y2="633" stroke="#000" stroke-width="1.9"/>
<polygon points="409.7,633.7 419.9,633.7 414.8,626.4" fill="#000"/>
<text x="99.70" y="642.80" font-size="14.70" fill="#000" text-anchor="start" font-weight="bold" >Station</text>
<text x="99.70" y="695.20" font-size="14.70" fill="#000" text-anchor="start" font-weight="bold" >Buoy</text>
<line x1="103.4" x2="117.2" y1="654.6" y2="654.6" stroke="#ECA32C" stroke-width="1.5"/>
<circle cx="110.3" cy="654.6" r="2.2" fill="#ECA32C"/>
<text x="124.50" y="659.20" font-size="14.90" fill="#000" text-anchor="start" font-weight="normal" >HP1</text>
<line x1="103.4" x2="117.2" y1="670.7" y2="670.7" stroke="#BE2CFF" stroke-width="1.5"/>
<circle cx="110.3" cy="670.7" r="2.2" fill="#BE2CFF"/>
<text x="124.50" y="675.30" font-size="14.90" fill="#000" text-anchor="start" font-weight="normal" >STO1</text>
<line x1="103.4" x2="117.2" y1="709.3" y2="709.3" stroke="#61625E" stroke-width="1.5"/>
<circle cx="110.3" cy="709.3" r="2.2" fill="#61625E"/>
<text x="124.50" y="713.90" font-size="14.90" fill="#000" text-anchor="start" font-weight="normal" >51207h</text>
<line x1="103.4" x2="117.2" y1="723.8" y2="723.8" stroke="#BEBFBE" stroke-width="1.5"/>
<circle cx="110.3" cy="723.8" r="2.2" fill="#BEBFBE"/>
<text x="124.50" y="728.40" font-size="14.90" fill="#000" text-anchor="start" font-weight="normal" >mokh1h</text>
<rect x="82.6" y="389.8" width="584.0" height="370.2" fill="none" stroke="#1c1c1c" stroke-width="1.35"/>
<line x1="78.2" x2="82.6" y1="472.7" y2="472.7" stroke="#1c1c1c" stroke-width="1.3"/>
<text x="73.90" y="479.90" font-size="17.80" fill="#4D4D4D" text-anchor="end" font-weight="normal" >28</text>
<line x1="78.2" x2="82.6" y1="567.7" y2="567.7" stroke="#1c1c1c" stroke-width="1.3"/>
<text x="73.90" y="574.90" font-size="17.80" fill="#4D4D4D" text-anchor="end" font-weight="normal" >26</text>
<line x1="78.2" x2="82.6" y1="662.6" y2="662.6" stroke="#1c1c1c" stroke-width="1.3"/>
<text x="73.90" y="669.80" font-size="17.80" fill="#4D4D4D" text-anchor="end" font-weight="normal" >24</text>
<line x1="78.2" x2="82.6" y1="757.6" y2="757.6" stroke="#1c1c1c" stroke-width="1.3"/>
<text x="73.90" y="764.80" font-size="17.80" fill="#4D4D4D" text-anchor="end" font-weight="normal" >22</text>
<line x1="265.7" x2="265.7" y1="760.0" y2="764.3" stroke="#1c1c1c" stroke-width="1.3"/>
<text x="265.00" y="780.90" font-size="17.80" fill="#4D4D4D" text-anchor="middle" font-weight="normal" >2021-01</text>
<line x1="451.5" x2="451.5" y1="760.0" y2="764.3" stroke="#1c1c1c" stroke-width="1.3"/>
<text x="450.80" y="780.90" font-size="17.80" fill="#4D4D4D" text-anchor="middle" font-weight="normal" >2021-07</text>
<line x1="640.7" x2="640.7" y1="760.0" y2="764.3" stroke="#1c1c1c" stroke-width="1.3"/>
<text x="640.00" y="780.90" font-size="17.80" fill="#4D4D4D" text-anchor="middle" font-weight="normal" >2022-01</text>
<text transform="translate(38.90,596.70) rotate(-90)" font-size="16.10" fill="#000" text-anchor="middle" font-weight="normal">Temperature (°C)</text>
</g>
</svg>
</body></html>
